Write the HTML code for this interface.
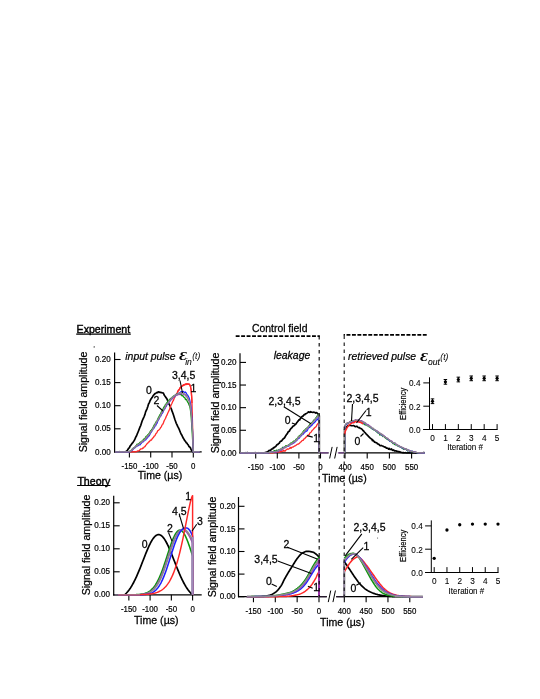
<!DOCTYPE html>
<html><head><meta charset="utf-8"><title>figure</title>
<style>
html,body{margin:0;padding:0;background:#fff;}
body{width:540px;height:699px;overflow:hidden;font-family:"Liberation Sans", sans-serif;}
svg{display:block;font-family:"Liberation Sans", sans-serif;}
</style></head><body>
<svg width="540" height="699" viewBox="0 0 540 699">
<rect width="540" height="699" fill="#fff"/>
<line x1="76.20" y1="334.10" x2="130.80" y2="334.10" stroke="#000" stroke-width="1.10" />
<path d="M235.7 336.1 H319.9" fill="none" stroke="#000" stroke-width="1.8" stroke-dasharray="3.9 1.55"/>
<path d="M426.7 334.9 H343.6" fill="none" stroke="#000" stroke-width="1.8" stroke-dasharray="3.9 1.55"/>
<line x1="114.60" y1="352.50" x2="114.60" y2="452.50" stroke="#000" stroke-width="1.20" />
<line x1="114.60" y1="451.90" x2="120.60" y2="451.90" stroke="#000" stroke-width="1.10" />
<line x1="114.60" y1="428.80" x2="120.60" y2="428.80" stroke="#000" stroke-width="1.10" />
<line x1="114.60" y1="405.70" x2="120.60" y2="405.70" stroke="#000" stroke-width="1.10" />
<line x1="114.60" y1="382.60" x2="120.60" y2="382.60" stroke="#000" stroke-width="1.10" />
<line x1="114.60" y1="359.50" x2="120.60" y2="359.50" stroke="#000" stroke-width="1.10" />
<line x1="114.00" y1="451.90" x2="201.70" y2="451.90" stroke="#000" stroke-width="1.20" />
<line x1="129.40" y1="451.90" x2="129.40" y2="457.50" stroke="#000" stroke-width="1.10" />
<line x1="150.70" y1="451.90" x2="150.70" y2="457.50" stroke="#000" stroke-width="1.10" />
<line x1="172.00" y1="451.90" x2="172.00" y2="457.50" stroke="#000" stroke-width="1.10" />
<line x1="193.30" y1="451.90" x2="193.30" y2="457.50" stroke="#000" stroke-width="1.10" />
<path d="M115.13 451.71 L115.84 451.97 L116.55 451.96 L117.26 452.02 L117.97 451.80 L118.68 452.17 L119.39 451.70 L120.10 451.99 L120.81 451.86 L121.52 451.93 L122.23 451.73 L122.95 452.14 L123.66 451.94 L124.37 451.94 L125.08 451.77 L125.79 451.71 L126.50 451.05 L127.21 450.60 L127.92 449.44 L128.63 448.31 L129.34 447.85 L130.05 446.12 L130.76 445.23 L131.47 444.36 L132.18 443.21 L132.89 442.65 L133.60 441.34 L134.32 440.40 L135.03 438.89 L135.74 437.19 L136.45 435.99 L137.16 434.20 L137.87 432.52 L138.58 430.77 L139.29 428.92 L140.00 426.95 L140.71 425.53 L141.42 423.28 L142.13 420.99 L142.84 419.45 L143.55 417.90 L144.26 416.27 L144.97 414.35 L145.68 411.64 L146.40 410.24 L147.11 408.57 L147.82 406.46 L148.53 404.06 L149.24 402.90 L149.95 400.99 L150.66 399.54 L151.37 398.48 L152.08 397.59 L152.79 396.29 L153.50 395.35 L154.21 394.38 L154.92 393.76 L155.63 393.22 L156.34 392.96 L157.05 392.37 L157.76 392.60 L158.48 391.79 L159.19 392.01 L159.90 392.37 L160.61 392.31 L161.32 392.76 L162.03 392.71 L162.74 392.97 L163.45 393.18 L164.16 395.03 L164.87 396.05 L165.58 396.95 L166.29 398.03 L167.00 399.09 L167.71 400.73 L168.42 403.08 L169.13 404.16 L169.84 405.42 L170.56 407.26 L171.27 408.78 L171.98 410.88 L172.69 412.81 L173.40 414.83 L174.11 416.98 L174.82 419.22 L175.53 421.24 L176.24 423.28 L176.95 424.62 L177.66 426.31 L178.37 427.53 L179.08 429.03 L179.79 430.89 L180.50 432.60 L181.21 434.18 L181.93 435.30 L182.64 436.81 L183.35 438.28 L184.06 439.39 L184.77 440.73 L185.48 441.35 L186.19 442.69 L186.90 443.08 L187.61 444.24 L188.32 445.07 L189.03 446.51 L189.74 447.02 L190.45 447.90 L191.16 449.71 L191.87 450.65 L192.58 451.53 L193.29 452.06 L194.01 451.86 L194.72 451.80 L195.43 452.00 L196.14 451.86 L196.85 452.05 L197.56 451.90 L198.27 452.09 L198.98 451.77 L199.69 451.85" fill="none" stroke="#000000" stroke-width="1.70" stroke-linejoin="round" stroke-linecap="butt"/>
<path d="M115.13 451.89 L115.84 451.84 L116.55 452.02 L117.26 451.82 L117.97 451.95 L118.68 452.08 L119.39 451.97 L120.10 451.83 L120.81 451.86 L121.52 452.03 L122.23 451.83 L122.95 451.91 L123.66 451.85 L124.37 451.86 L125.08 452.03 L125.79 451.86 L126.50 451.97 L127.21 451.72 L127.92 451.82 L128.63 451.89 L129.34 452.01 L130.05 451.89 L130.76 451.88 L131.47 452.04 L132.18 451.64 L132.89 451.85 L133.60 451.70 L134.32 452.03 L135.03 451.71 L135.74 451.91 L136.45 451.58 L137.16 451.20 L137.87 450.98 L138.58 450.96 L139.29 450.72 L140.00 449.74 L140.71 448.95 L141.42 448.91 L142.13 448.84 L142.84 448.01 L143.55 448.03 L144.26 446.79 L144.97 446.61 L145.68 445.36 L146.40 444.59 L147.11 443.52 L147.82 443.16 L148.53 441.99 L149.24 441.77 L149.95 440.77 L150.66 440.09 L151.37 440.22 L152.08 438.84 L152.79 438.01 L153.50 437.40 L154.21 436.18 L154.92 435.77 L155.63 434.17 L156.34 433.22 L157.05 432.34 L157.76 430.70 L158.48 430.45 L159.19 429.59 L159.90 428.87 L160.61 427.52 L161.32 426.85 L162.03 424.98 L162.74 424.37 L163.45 422.76 L164.16 420.73 L164.87 419.49 L165.58 418.23 L166.29 416.26 L167.00 415.11 L167.71 413.22 L168.42 411.82 L169.13 410.38 L169.84 408.16 L170.56 406.18 L171.27 404.80 L171.98 403.29 L172.69 401.44 L173.40 400.49 L174.11 398.44 L174.82 397.15 L175.53 394.76 L176.24 394.28 L176.95 393.36 L177.66 391.44 L178.37 390.70 L179.08 389.55 L179.79 388.48 L180.50 387.53 L181.21 386.90 L181.93 385.83 L182.64 385.49 L183.35 385.38 L184.06 384.88 L184.77 384.78 L185.48 384.12 L186.19 383.82 L186.90 383.83 L187.61 383.90 L188.32 384.27 L189.03 383.93 L189.74 384.94 L190.45 386.59 L191.16 389.88 L191.87 399.95 L192.58 425.79 L193.29 451.66 L194.01 451.85 L194.72 452.09 L195.43 451.95 L196.14 452.06 L196.85 451.80 L197.56 451.74 L198.27 451.95 L198.98 451.83 L199.69 451.92" fill="none" stroke="#ff2828" stroke-width="1.30" stroke-linejoin="round" stroke-linecap="butt"/>
<path d="M115.13 451.95 L115.84 451.91 L116.55 452.15 L117.26 451.71 L117.97 452.11 L118.68 452.00 L119.39 451.84 L120.10 452.04 L120.81 452.02 L121.52 452.00 L122.23 451.84 L122.95 451.64 L123.66 451.90 L124.37 452.03 L125.08 451.84 L125.79 451.97 L126.50 451.90 L127.21 451.76 L127.92 451.97 L128.63 451.72 L129.34 451.56 L130.05 451.12 L130.76 450.53 L131.47 450.22 L132.18 449.27 L132.89 448.49 L133.60 447.92 L134.32 447.47 L135.03 446.98 L135.74 446.01 L136.45 445.51 L137.16 444.17 L137.87 445.15 L138.58 443.79 L139.29 443.17 L140.00 442.29 L140.71 442.00 L141.42 441.84 L142.13 440.94 L142.84 440.12 L143.55 439.73 L144.26 438.70 L144.97 438.84 L145.68 436.93 L146.40 436.23 L147.11 435.99 L147.82 434.82 L148.53 434.09 L149.24 433.42 L149.95 432.14 L150.66 430.83 L151.37 430.22 L152.08 429.11 L152.79 427.86 L153.50 426.49 L154.21 424.98 L154.92 424.33 L155.63 422.69 L156.34 421.50 L157.05 420.88 L157.76 419.08 L158.48 417.61 L159.19 416.18 L159.90 414.67 L160.61 414.05 L161.32 412.03 L162.03 410.98 L162.74 409.98 L163.45 408.09 L164.16 406.78 L164.87 406.01 L165.58 404.35 L166.29 403.65 L167.00 402.50 L167.71 401.98 L168.42 400.31 L169.13 400.93 L169.84 399.38 L170.56 398.47 L171.27 398.73 L171.98 397.56 L172.69 397.00 L173.40 396.24 L174.11 395.62 L174.82 395.67 L175.53 395.53 L176.24 394.25 L176.95 394.02 L177.66 394.44 L178.37 394.20 L179.08 394.27 L179.79 394.33 L180.50 394.61 L181.21 394.42 L181.93 395.80 L182.64 395.47 L183.35 396.38 L184.06 397.33 L184.77 397.62 L185.48 399.53 L186.19 399.25 L186.90 400.47 L187.61 402.10 L188.32 402.95 L189.03 404.89 L189.74 406.25 L190.45 410.05 L191.16 416.51 L191.87 426.71 L192.58 439.16 L193.29 451.94 L194.01 451.96 L194.72 452.00 L195.43 451.97 L196.14 451.93 L196.85 451.96 L197.56 451.98 L198.27 452.01 L198.98 451.61 L199.69 452.07" fill="none" stroke="#0c960c" stroke-width="1.30" stroke-linejoin="round" stroke-linecap="butt"/>
<path d="M115.13 451.69 L115.84 451.85 L116.55 451.89 L117.26 452.12 L117.97 451.93 L118.68 451.94 L119.39 451.91 L120.10 451.97 L120.81 451.91 L121.52 451.96 L122.23 452.05 L122.95 451.80 L123.66 451.80 L124.37 451.70 L125.08 451.89 L125.79 451.95 L126.50 451.96 L127.21 452.08 L127.92 451.79 L128.63 452.03 L129.34 451.91 L130.05 451.54 L130.76 451.01 L131.47 450.63 L132.18 450.33 L132.89 449.52 L133.60 448.41 L134.32 448.08 L135.03 447.74 L135.74 447.04 L136.45 446.23 L137.16 445.33 L137.87 445.89 L138.58 445.20 L139.29 444.76 L140.00 444.78 L140.71 443.77 L141.42 443.26 L142.13 441.99 L142.84 441.82 L143.55 441.71 L144.26 440.37 L144.97 440.06 L145.68 439.83 L146.40 438.74 L147.11 437.97 L147.82 437.23 L148.53 436.05 L149.24 435.86 L149.95 434.25 L150.66 432.84 L151.37 431.86 L152.08 430.70 L152.79 429.56 L153.50 428.27 L154.21 427.90 L154.92 426.03 L155.63 425.66 L156.34 424.01 L157.05 423.19 L157.76 420.96 L158.48 419.58 L159.19 418.77 L159.90 416.82 L160.61 416.31 L161.32 414.75 L162.03 413.48 L162.74 412.63 L163.45 410.89 L164.16 409.14 L164.87 408.85 L165.58 407.01 L166.29 406.17 L167.00 404.43 L167.71 403.79 L168.42 402.74 L169.13 401.78 L169.84 400.97 L170.56 400.60 L171.27 398.85 L171.98 398.93 L172.69 397.65 L173.40 396.84 L174.11 396.65 L174.82 395.71 L175.53 394.79 L176.24 394.63 L176.95 394.41 L177.66 394.62 L178.37 393.56 L179.08 392.98 L179.79 392.52 L180.50 392.28 L181.21 391.56 L181.93 391.72 L182.64 391.58 L183.35 391.48 L184.06 392.24 L184.77 392.42 L185.48 392.03 L186.19 392.99 L186.90 394.52 L187.61 395.21 L188.32 396.29 L189.03 397.69 L189.74 400.29 L190.45 403.62 L191.16 409.21 L191.87 417.75 L192.58 431.58 L193.29 451.96 L194.01 451.92 L194.72 451.95 L195.43 451.82 L196.14 451.98 L196.85 451.84 L197.56 451.80 L198.27 451.84 L198.98 452.00 L199.69 451.74" fill="none" stroke="#2020ff" stroke-width="1.30" stroke-linejoin="round" stroke-linecap="butt"/>
<path d="M115.13 451.87 L115.84 451.78 L116.55 452.00 L117.26 451.97 L117.97 452.01 L118.68 451.93 L119.39 451.97 L120.10 451.69 L120.81 452.14 L121.52 451.80 L122.23 452.01 L122.95 451.93 L123.66 451.65 L124.37 452.05 L125.08 451.89 L125.79 452.04 L126.50 451.76 L127.21 452.02 L127.92 451.78 L128.63 451.89 L129.34 451.36 L130.05 451.65 L130.76 450.58 L131.47 450.09 L132.18 450.13 L132.89 449.54 L133.60 448.05 L134.32 447.72 L135.03 447.24 L135.74 445.90 L136.45 445.96 L137.16 446.12 L137.87 444.51 L138.58 444.40 L139.29 443.88 L140.00 443.36 L140.71 442.88 L141.42 442.59 L142.13 441.72 L142.84 441.83 L143.55 440.54 L144.26 440.55 L144.97 439.20 L145.68 438.80 L146.40 437.72 L147.11 437.23 L147.82 436.31 L148.53 435.56 L149.24 434.43 L149.95 432.87 L150.66 432.19 L151.37 430.98 L152.08 430.64 L152.79 428.77 L153.50 427.72 L154.21 426.99 L154.92 425.80 L155.63 424.27 L156.34 423.18 L157.05 421.48 L157.76 420.35 L158.48 419.36 L159.19 418.50 L159.90 416.57 L160.61 415.74 L161.32 413.98 L162.03 412.68 L162.74 411.42 L163.45 410.20 L164.16 409.32 L164.87 408.00 L165.58 407.36 L166.29 405.31 L167.00 404.13 L167.71 403.47 L168.42 402.95 L169.13 401.63 L169.84 401.16 L170.56 400.24 L171.27 398.86 L171.98 398.84 L172.69 398.46 L173.40 397.46 L174.11 397.12 L174.82 396.94 L175.53 396.02 L176.24 395.26 L176.95 395.37 L177.66 394.42 L178.37 394.65 L179.08 394.73 L179.79 393.86 L180.50 394.06 L181.21 393.36 L181.93 393.94 L182.64 393.93 L183.35 394.37 L184.06 394.55 L184.77 394.88 L185.48 395.56 L186.19 396.72 L186.90 396.85 L187.61 398.11 L188.32 400.30 L189.03 401.05 L189.74 404.00 L190.45 407.13 L191.16 413.02 L191.87 420.71 L192.58 432.21 L193.29 451.93 L194.01 451.87 L194.72 451.82 L195.43 452.06 L196.14 451.97 L196.85 451.92 L197.56 451.98 L198.27 451.92 L198.98 451.88 L199.69 451.90" fill="none" stroke="#9c44b4" stroke-width="1.10" stroke-linejoin="round" stroke-linecap="butt"/>
<path d="M115.13 451.90 L115.84 451.90 L116.55 451.90 L117.26 451.90 L117.97 451.90 L118.68 451.90 L119.39 451.90 L120.10 451.90 L120.81 451.90 L121.52 451.90 L122.23 451.90 L122.95 451.90 L123.66 451.90 L124.37 451.90 L125.08 451.90 L125.79 451.90 L126.50 451.90 L127.21 451.90 L127.92 451.90 L128.63 451.84 L129.34 451.62 L130.05 451.34 L130.76 450.89 L131.47 450.42 L132.18 449.27 L132.89 448.63 L133.60 448.14 L134.32 447.67 L135.03 447.00 L135.74 446.50 L136.45 445.69 L137.16 445.63 L137.87 444.92 L138.58 444.44 L139.29 443.91 L140.00 443.28 L140.71 442.75 L141.42 441.81 L142.13 441.68 L142.84 440.53 L143.55 440.51 L144.26 439.91 L144.97 439.05 L145.68 438.26 L146.40 437.54 L147.11 436.42 L147.82 435.63 L148.53 434.96 L149.24 434.31 L149.95 433.28 L150.66 431.79 L151.37 431.14 L152.08 430.54 L152.79 429.17 L153.50 427.93 L154.21 426.12 L154.92 425.26 L155.63 423.21 L156.34 422.46 L157.05 421.36 L157.76 420.25 L158.48 418.48 L159.19 417.54 L159.90 416.40 L160.61 414.63 L161.32 413.50 L162.03 411.86 L162.74 411.02 L163.45 410.65 L164.16 408.21 L164.87 407.82 L165.58 405.51 L166.29 404.26 L167.00 403.91 L167.71 403.16 L168.42 402.34 L169.13 400.74 L169.84 400.27 L170.56 399.62 L171.27 398.78 L171.98 397.33 L172.69 397.25 L173.40 396.53 L174.11 395.95 L174.82 395.32 L175.53 394.80 L176.24 394.90 L176.95 394.32 L177.66 394.13 L178.37 393.79 L179.08 392.87 L179.79 393.11 L180.50 392.76 L181.21 392.85 L181.93 392.87 L182.64 392.62 L183.35 393.34 L184.06 393.76 L184.77 393.92 L185.48 394.43 L186.19 395.05 L186.90 396.21 L187.61 398.00 L188.32 398.61 L189.03 400.45 L189.74 402.75 L190.45 406.74 L191.16 411.80 L191.87 421.10 L192.58 431.68 L193.29 451.90 L194.01 451.90 L194.72 451.90 L195.43 451.90 L196.14 451.90 L196.85 451.90 L197.56 451.90 L198.27 451.90 L198.98 451.90 L199.69 451.90" fill="none" stroke="#8a8a8a" stroke-width="1.30" stroke-linejoin="round" stroke-linecap="butt"/>
<path d="M177.79 391.76 L178.16 390.49 L178.52 389.92 L178.89 390.27 L179.25 389.68 L179.62 389.23 L179.98 387.58 L180.34 387.69 L180.71 387.31 L181.07 386.71 L181.44 386.85 L181.80 386.29 L182.17 386.35 L182.53 385.54 L182.89 385.81 L183.26 385.16 L183.62 384.72 L183.99 384.90 L184.35 384.40 L184.72 384.89 L185.08 384.73 L185.44 384.15 L185.81 384.20 L186.17 384.52 L186.54 384.19 L186.90 383.65 L187.27 384.29 L187.63 384.09 L187.99 384.29 L188.36 384.18 L188.72 384.23 L189.09 384.27 L189.45 384.43 L189.81 384.72 L190.18 385.63 L190.54 386.86 L190.91 388.61 L191.27 391.77 L191.64 396.11 L192.00 402.95" fill="none" stroke="#ff2828" stroke-width="1.30" stroke-linejoin="round" stroke-linecap="butt"/>
<line x1="180.00" y1="380.50" x2="182.50" y2="393.00" stroke="#000" stroke-width="1.10" />
<line x1="157.00" y1="405.50" x2="163.00" y2="411.00" stroke="#000" stroke-width="1.10" />
<circle cx="94.2" cy="346.9" r="0.7" fill="#222"/>
<line x1="240.00" y1="353.20" x2="240.00" y2="453.50" stroke="#000" stroke-width="1.20" />
<line x1="240.00" y1="452.90" x2="246.00" y2="452.90" stroke="#000" stroke-width="1.10" />
<line x1="240.00" y1="430.28" x2="246.00" y2="430.28" stroke="#000" stroke-width="1.10" />
<line x1="240.00" y1="407.66" x2="246.00" y2="407.66" stroke="#000" stroke-width="1.10" />
<line x1="240.00" y1="385.04" x2="246.00" y2="385.04" stroke="#000" stroke-width="1.10" />
<line x1="240.00" y1="362.42" x2="246.00" y2="362.42" stroke="#000" stroke-width="1.10" />
<line x1="239.40" y1="452.90" x2="329.00" y2="452.90" stroke="#000" stroke-width="1.20" />
<line x1="255.70" y1="452.90" x2="255.70" y2="458.50" stroke="#000" stroke-width="1.10" />
<line x1="277.30" y1="452.90" x2="277.30" y2="458.50" stroke="#000" stroke-width="1.10" />
<line x1="298.90" y1="452.90" x2="298.90" y2="458.50" stroke="#000" stroke-width="1.10" />
<line x1="320.50" y1="452.90" x2="320.50" y2="458.50" stroke="#000" stroke-width="1.10" />
<line x1="338.50" y1="452.90" x2="424.40" y2="452.90" stroke="#000" stroke-width="1.20" />
<line x1="345.00" y1="452.90" x2="345.00" y2="458.50" stroke="#000" stroke-width="1.10" />
<line x1="367.20" y1="452.90" x2="367.20" y2="458.50" stroke="#000" stroke-width="1.10" />
<line x1="389.40" y1="452.90" x2="389.40" y2="458.50" stroke="#000" stroke-width="1.10" />
<line x1="411.60" y1="452.90" x2="411.60" y2="458.50" stroke="#000" stroke-width="1.10" />
<path d="M240.12 452.94 L240.85 452.82 L241.57 452.88 L242.30 453.00 L243.03 453.18 L243.75 452.80 L244.48 452.77 L245.20 453.07 L245.93 452.71 L246.66 452.95 L247.38 452.60 L248.11 452.83 L248.84 452.94 L249.56 452.76 L250.29 452.89 L251.02 452.89 L251.74 452.89 L252.47 452.92 L253.20 452.83 L253.92 452.81 L254.65 452.86 L255.37 452.69 L256.10 453.05 L256.83 452.95 L257.55 452.81 L258.28 453.03 L259.01 452.72 L259.73 452.82 L260.46 452.92 L261.19 452.84 L261.91 452.97 L262.64 453.07 L263.37 452.80 L264.09 452.75 L264.82 452.66 L265.54 452.44 L266.27 452.42 L267.00 451.98 L267.72 451.60 L268.45 451.10 L269.18 450.35 L269.90 450.54 L270.63 450.19 L271.36 449.19 L272.08 449.03 L272.81 448.88 L273.54 447.49 L274.26 447.56 L274.99 446.87 L275.71 446.42 L276.44 445.39 L277.17 444.57 L277.89 444.42 L278.62 443.56 L279.35 443.19 L280.07 441.64 L280.80 441.21 L281.53 441.15 L282.25 440.03 L282.98 439.11 L283.71 438.43 L284.43 437.93 L285.16 436.81 L285.88 435.47 L286.61 434.39 L287.34 433.60 L288.06 432.04 L288.79 431.48 L289.52 430.96 L290.24 429.45 L290.97 428.47 L291.70 427.93 L292.42 426.92 L293.15 426.13 L293.88 425.83 L294.60 425.35 L295.33 424.33 L296.05 423.93 L296.78 422.63 L297.51 421.79 L298.23 420.87 L298.96 419.77 L299.69 420.00 L300.41 418.29 L301.14 417.90 L301.87 416.69 L302.59 416.15 L303.32 415.85 L304.05 414.64 L304.77 414.63 L305.50 413.71 L306.22 413.57 L306.95 413.11 L307.68 412.62 L308.40 411.88 L309.13 412.17 L309.86 412.31 L310.58 411.72 L311.31 412.19 L312.04 412.28 L312.76 412.50 L313.49 412.17 L314.22 412.24 L314.94 412.57 L315.67 413.05 L316.39 412.64 L317.12 412.96 L317.85 413.75 L318.57 414.69 L319.30 415.69 L319.30 452.90" fill="none" stroke="#000000" stroke-width="1.70" stroke-linejoin="round" stroke-linecap="butt"/>
<path d="M240.12 452.90 L240.85 452.93 L241.57 453.03 L242.30 452.90 L243.03 452.94 L243.75 452.95 L244.48 453.07 L245.20 452.96 L245.93 452.93 L246.66 452.97 L247.38 452.83 L248.11 452.70 L248.84 452.87 L249.56 452.82 L250.29 452.69 L251.02 452.85 L251.74 452.73 L252.47 453.00 L253.20 452.92 L253.92 452.75 L254.65 452.82 L255.37 452.90 L256.10 452.80 L256.83 452.86 L257.55 452.84 L258.28 452.94 L259.01 452.88 L259.73 452.86 L260.46 452.96 L261.19 453.14 L261.91 452.91 L262.64 452.62 L263.37 453.20 L264.09 453.00 L264.82 452.93 L265.54 452.87 L266.27 452.77 L267.00 452.78 L267.72 452.75 L268.45 452.74 L269.18 452.97 L269.90 452.91 L270.63 452.96 L271.36 452.85 L272.08 452.94 L272.81 453.00 L273.54 452.60 L274.26 452.56 L274.99 452.44 L275.71 452.14 L276.44 452.26 L277.17 452.09 L277.89 452.02 L278.62 452.08 L279.35 452.06 L280.07 451.66 L280.80 451.74 L281.53 451.59 L282.25 450.96 L282.98 451.28 L283.71 450.23 L284.43 451.05 L285.16 451.13 L285.88 450.04 L286.61 449.56 L287.34 448.87 L288.06 449.26 L288.79 448.92 L289.52 448.53 L290.24 447.38 L290.97 448.37 L291.70 447.33 L292.42 447.08 L293.15 447.01 L293.88 446.46 L294.60 445.93 L295.33 445.87 L296.05 445.23 L296.78 444.64 L297.51 444.21 L298.23 444.16 L298.96 443.64 L299.69 443.03 L300.41 442.19 L301.14 441.78 L301.87 440.79 L302.59 440.32 L303.32 440.29 L304.05 438.77 L304.77 438.61 L305.50 437.55 L306.22 437.02 L306.95 436.02 L307.68 435.57 L308.40 434.81 L309.13 434.63 L309.86 432.90 L310.58 432.54 L311.31 431.86 L312.04 430.50 L312.76 429.89 L313.49 429.15 L314.22 428.23 L314.94 427.52 L315.67 427.01 L316.39 426.18 L317.12 424.60 L317.85 423.71 L318.57 423.09 L319.30 422.49 L319.30 452.90" fill="none" stroke="#ff2828" stroke-width="1.30" stroke-linejoin="round" stroke-linecap="butt"/>
<path d="M240.12 452.71 L240.85 452.95 L241.57 452.90 L242.30 452.85 L243.03 452.99 L243.75 452.90 L244.48 452.90 L245.20 453.10 L245.93 452.78 L246.66 452.83 L247.38 452.97 L248.11 452.92 L248.84 452.84 L249.56 452.93 L250.29 452.93 L251.02 453.06 L251.74 452.84 L252.47 452.89 L253.20 452.87 L253.92 453.07 L254.65 452.71 L255.37 452.88 L256.10 452.94 L256.83 452.67 L257.55 452.91 L258.28 453.06 L259.01 452.95 L259.73 453.16 L260.46 452.78 L261.19 452.95 L261.91 452.98 L262.64 452.78 L263.37 453.09 L264.09 452.84 L264.82 453.13 L265.54 452.97 L266.27 453.04 L267.00 452.73 L267.72 452.69 L268.45 452.77 L269.18 452.41 L269.90 452.35 L270.63 452.10 L271.36 452.09 L272.08 452.04 L272.81 451.90 L273.54 451.41 L274.26 450.65 L274.99 451.10 L275.71 451.16 L276.44 450.18 L277.17 450.48 L277.89 450.26 L278.62 449.90 L279.35 449.67 L280.07 449.35 L280.80 449.32 L281.53 448.30 L282.25 448.08 L282.98 447.27 L283.71 447.38 L284.43 447.48 L285.16 446.52 L285.88 445.57 L286.61 445.83 L287.34 445.60 L288.06 445.29 L288.79 444.84 L289.52 444.20 L290.24 444.10 L290.97 442.86 L291.70 443.03 L292.42 442.49 L293.15 441.62 L293.88 441.10 L294.60 441.08 L295.33 440.25 L296.05 439.39 L296.78 438.91 L297.51 438.61 L298.23 437.03 L298.96 436.16 L299.69 435.54 L300.41 435.18 L301.14 434.16 L301.87 433.49 L302.59 432.60 L303.32 431.31 L304.05 430.45 L304.77 429.95 L305.50 429.24 L306.22 428.45 L306.95 427.93 L307.68 427.20 L308.40 426.64 L309.13 425.67 L309.86 424.16 L310.58 423.79 L311.31 423.35 L312.04 422.56 L312.76 421.85 L313.49 420.62 L314.22 419.78 L314.94 419.54 L315.67 418.06 L316.39 417.51 L317.12 416.00 L317.85 415.60 L318.57 414.41 L319.30 414.59 L319.30 452.90" fill="none" stroke="#0c960c" stroke-width="1.30" stroke-linejoin="round" stroke-linecap="butt"/>
<path d="M240.12 452.89 L240.85 452.78 L241.57 453.12 L242.30 453.06 L243.03 453.16 L243.75 452.63 L244.48 452.70 L245.20 452.65 L245.93 452.81 L246.66 452.79 L247.38 453.03 L248.11 452.68 L248.84 453.03 L249.56 452.98 L250.29 452.94 L251.02 452.99 L251.74 452.80 L252.47 452.93 L253.20 452.91 L253.92 452.92 L254.65 452.75 L255.37 452.97 L256.10 452.92 L256.83 452.85 L257.55 453.09 L258.28 452.95 L259.01 452.84 L259.73 452.77 L260.46 452.88 L261.19 452.98 L261.91 452.74 L262.64 452.93 L263.37 452.90 L264.09 452.88 L264.82 452.91 L265.54 452.96 L266.27 452.85 L267.00 453.03 L267.72 452.95 L268.45 452.78 L269.18 452.63 L269.90 452.37 L270.63 452.24 L271.36 452.14 L272.08 452.06 L272.81 451.88 L273.54 451.65 L274.26 451.62 L274.99 451.97 L275.71 451.13 L276.44 451.93 L277.17 451.73 L277.89 450.91 L278.62 451.11 L279.35 449.88 L280.07 449.79 L280.80 449.89 L281.53 449.77 L282.25 448.75 L282.98 448.08 L283.71 448.08 L284.43 447.16 L285.16 447.22 L285.88 446.78 L286.61 446.76 L287.34 446.18 L288.06 446.00 L288.79 446.15 L289.52 444.39 L290.24 444.86 L290.97 444.42 L291.70 443.67 L292.42 443.67 L293.15 443.22 L293.88 442.69 L294.60 442.66 L295.33 441.20 L296.05 440.89 L296.78 440.48 L297.51 439.24 L298.23 438.67 L298.96 438.35 L299.69 437.28 L300.41 436.61 L301.14 435.76 L301.87 435.01 L302.59 434.16 L303.32 434.03 L304.05 432.92 L304.77 432.50 L305.50 431.35 L306.22 431.24 L306.95 430.82 L307.68 429.57 L308.40 427.92 L309.13 427.65 L309.86 427.26 L310.58 425.75 L311.31 425.83 L312.04 425.06 L312.76 423.95 L313.49 423.34 L314.22 422.69 L314.94 422.05 L315.67 421.12 L316.39 419.93 L317.12 419.87 L317.85 418.92 L318.57 417.64 L319.30 416.79 L319.30 452.90" fill="none" stroke="#2020ff" stroke-width="1.30" stroke-linejoin="round" stroke-linecap="butt"/>
<path d="M240.12 452.85 L240.85 452.71 L241.57 452.93 L242.30 453.01 L243.03 452.89 L243.75 452.73 L244.48 452.86 L245.20 452.93 L245.93 452.99 L246.66 452.96 L247.38 452.87 L248.11 453.18 L248.84 452.97 L249.56 453.10 L250.29 452.87 L251.02 452.76 L251.74 452.97 L252.47 452.93 L253.20 452.96 L253.92 452.85 L254.65 452.91 L255.37 452.99 L256.10 452.92 L256.83 452.88 L257.55 452.82 L258.28 452.82 L259.01 452.99 L259.73 452.86 L260.46 452.89 L261.19 452.94 L261.91 452.98 L262.64 452.89 L263.37 452.79 L264.09 452.73 L264.82 453.08 L265.54 452.79 L266.27 452.97 L267.00 452.85 L267.72 452.89 L268.45 452.63 L269.18 452.55 L269.90 452.29 L270.63 452.22 L271.36 452.25 L272.08 451.98 L272.81 452.00 L273.54 452.05 L274.26 451.77 L274.99 451.81 L275.71 451.51 L276.44 451.60 L277.17 451.44 L277.89 450.95 L278.62 450.57 L279.35 450.28 L280.07 450.52 L280.80 449.70 L281.53 450.12 L282.25 448.91 L282.98 449.26 L283.71 447.95 L284.43 447.93 L285.16 447.87 L285.88 446.71 L286.61 446.52 L287.34 446.15 L288.06 445.61 L288.79 445.27 L289.52 444.93 L290.24 444.56 L290.97 443.78 L291.70 444.34 L292.42 443.90 L293.15 443.14 L293.88 442.41 L294.60 441.94 L295.33 440.78 L296.05 440.97 L296.78 439.89 L297.51 438.97 L298.23 437.91 L298.96 437.57 L299.69 436.68 L300.41 436.18 L301.14 434.75 L301.87 434.15 L302.59 434.33 L303.32 432.53 L304.05 432.02 L304.77 431.29 L305.50 430.29 L306.22 429.13 L306.95 429.03 L307.68 428.78 L308.40 426.97 L309.13 425.90 L309.86 425.80 L310.58 425.10 L311.31 424.16 L312.04 423.58 L312.76 422.45 L313.49 421.61 L314.22 420.36 L314.94 420.26 L315.67 418.93 L316.39 418.10 L317.12 417.15 L317.85 416.57 L318.57 415.87 L319.30 414.63 L319.30 452.90" fill="none" stroke="#9c44b4" stroke-width="1.10" stroke-linejoin="round" stroke-linecap="butt"/>
<path d="M240.12 452.90 L240.85 452.90 L241.57 452.90 L242.30 452.90 L243.03 452.90 L243.75 452.90 L244.48 452.90 L245.20 452.90 L245.93 452.90 L246.66 452.90 L247.38 452.90 L248.11 452.90 L248.84 452.90 L249.56 452.90 L250.29 452.90 L251.02 452.90 L251.74 452.90 L252.47 452.90 L253.20 452.90 L253.92 452.90 L254.65 452.90 L255.37 452.90 L256.10 452.90 L256.83 452.90 L257.55 452.90 L258.28 452.90 L259.01 452.90 L259.73 452.90 L260.46 452.90 L261.19 452.90 L261.91 452.90 L262.64 452.90 L263.37 452.90 L264.09 452.90 L264.82 452.90 L265.54 452.90 L266.27 452.90 L267.00 452.90 L267.72 452.89 L268.45 452.72 L269.18 452.50 L269.90 452.35 L270.63 452.22 L271.36 452.10 L272.08 451.99 L272.81 451.89 L273.54 451.79 L274.26 451.68 L274.99 451.56 L275.71 451.47 L276.44 451.28 L277.17 451.00 L277.89 451.04 L278.62 450.36 L279.35 449.97 L280.07 449.80 L280.80 448.70 L281.53 448.74 L282.25 448.64 L282.98 448.31 L283.71 447.88 L284.43 447.58 L285.16 446.68 L285.88 446.87 L286.61 446.28 L287.34 446.02 L288.06 445.12 L288.79 445.50 L289.52 444.77 L290.24 444.30 L290.97 443.78 L291.70 443.34 L292.42 443.14 L293.15 442.31 L293.88 442.02 L294.60 440.78 L295.33 441.38 L296.05 439.97 L296.78 439.72 L297.51 438.84 L298.23 437.15 L298.96 436.43 L299.69 436.80 L300.41 435.51 L301.14 434.67 L301.87 434.52 L302.59 433.07 L303.32 432.14 L304.05 431.41 L304.77 431.34 L305.50 429.60 L306.22 429.13 L306.95 428.48 L307.68 427.96 L308.40 426.74 L309.13 425.91 L309.86 425.57 L310.58 424.58 L311.31 423.52 L312.04 423.57 L312.76 422.08 L313.49 421.88 L314.22 420.74 L314.94 419.48 L315.67 418.81 L316.39 418.00 L317.12 417.09 L317.85 415.92 L318.57 415.28 L319.30 415.24 L319.30 452.90" fill="none" stroke="#8a8a8a" stroke-width="1.30" stroke-linejoin="round" stroke-linecap="butt"/>
<path d="M344.60 452.90 L344.60 429.73 L345.33 427.64 L346.07 427.03 L346.80 427.19 L347.53 425.88 L348.27 425.69 L349.00 425.59 L349.73 425.21 L350.47 425.18 L351.20 425.72 L351.93 425.76 L352.67 425.76 L353.40 425.52 L354.13 425.71 L354.86 426.49 L355.60 426.65 L356.33 426.31 L357.06 426.31 L357.80 427.11 L358.53 427.65 L359.26 427.46 L360.00 428.32 L360.73 428.44 L361.46 428.69 L362.20 429.58 L362.93 430.43 L363.66 430.94 L364.40 432.12 L365.13 432.70 L365.86 433.60 L366.60 434.29 L367.33 435.21 L368.06 435.93 L368.80 436.78 L369.53 437.36 L370.26 438.09 L371.00 438.73 L371.73 439.05 L372.46 440.63 L373.20 440.31 L373.93 441.34 L374.66 442.17 L375.39 442.33 L376.13 442.73 L376.86 442.88 L377.59 444.00 L378.33 444.02 L379.06 444.46 L379.79 445.43 L380.53 445.65 L381.26 445.45 L381.99 445.77 L382.73 445.99 L383.46 446.49 L384.19 446.84 L384.93 447.23 L385.66 447.18 L386.39 448.11 L387.13 448.16 L387.86 448.26 L388.59 449.15 L389.33 448.49 L390.06 449.41 L390.79 449.43 L391.53 448.97 L392.26 450.16 L392.99 450.30 L393.73 449.87 L394.46 450.93 L395.19 450.94 L395.92 450.85 L396.66 451.08 L397.39 451.23 L398.12 451.56 L398.86 451.64 L399.59 451.86 L400.32 452.08 L401.06 452.39 L401.79 452.53 L402.52 452.79 L403.26 452.61 L403.99 453.00 L404.72 452.77 L405.46 452.69 L406.19 453.02 L406.92 452.98 L407.66 452.95 L408.39 452.81 L409.12 453.00 L409.86 452.91 L410.59 452.96 L411.32 452.93 L412.06 452.75 L412.79 453.01 L413.52 452.89 L414.26 452.87 L414.99 452.80 L415.72 453.04 L416.45 452.77 L417.19 452.85 L417.92 452.80 L418.65 452.89 L419.39 453.09 L420.12 452.97 L420.85 452.81 L421.59 452.90 L422.32 452.91 L423.05 452.70 L423.79 452.65 L424.52 452.90" fill="none" stroke="#000000" stroke-width="1.70" stroke-linejoin="round" stroke-linecap="butt"/>
<path d="M344.60 452.90 L344.60 429.23 L345.33 425.32 L346.07 424.11 L346.80 424.18 L347.53 422.99 L348.27 423.38 L349.00 422.60 L349.73 422.36 L350.47 422.30 L351.20 420.90 L351.93 421.79 L352.67 421.30 L353.40 420.96 L354.13 421.57 L354.86 420.66 L355.60 421.06 L356.33 420.69 L357.06 421.33 L357.80 421.43 L358.53 420.81 L359.26 421.16 L360.00 421.49 L360.73 421.62 L361.46 422.00 L362.20 422.88 L362.93 423.58 L363.66 423.82 L364.40 424.31 L365.13 424.93 L365.86 424.91 L366.60 425.35 L367.33 425.64 L368.06 426.00 L368.80 426.62 L369.53 427.02 L370.26 427.37 L371.00 428.17 L371.73 428.57 L372.46 428.84 L373.20 429.59 L373.93 430.09 L374.66 430.48 L375.39 430.56 L376.13 431.40 L376.86 432.14 L377.59 432.74 L378.33 433.12 L379.06 432.90 L379.79 435.12 L380.53 434.47 L381.26 435.07 L381.99 435.37 L382.73 436.50 L383.46 435.97 L384.19 436.81 L384.93 437.64 L385.66 438.07 L386.39 438.84 L387.13 439.10 L387.86 439.67 L388.59 439.84 L389.33 440.54 L390.06 441.19 L390.79 441.46 L391.53 442.00 L392.26 442.59 L392.99 443.61 L393.73 443.25 L394.46 444.37 L395.19 444.75 L395.92 444.87 L396.66 445.08 L397.39 445.19 L398.12 446.56 L398.86 445.94 L399.59 446.25 L400.32 447.27 L401.06 447.55 L401.79 448.02 L402.52 448.37 L403.26 448.95 L403.99 449.39 L404.72 449.23 L405.46 449.39 L406.19 449.17 L406.92 450.33 L407.66 450.93 L408.39 450.46 L409.12 450.88 L409.86 450.84 L410.59 451.28 L411.32 451.75 L412.06 451.75 L412.79 451.62 L413.52 451.84 L414.26 452.14 L414.99 452.08 L415.72 452.48 L416.45 452.50 L417.19 452.53 L417.92 452.84 L418.65 452.93 L419.39 452.87 L420.12 452.91 L420.85 452.93 L421.59 452.96 L422.32 453.02 L423.05 452.99 L423.79 452.56 L424.52 452.97" fill="none" stroke="#0c960c" stroke-width="1.20" stroke-linejoin="round" stroke-linecap="butt"/>
<path d="M344.60 452.90 L344.60 429.60 L345.33 425.33 L346.07 424.66 L346.80 423.95 L347.53 423.26 L348.27 423.20 L349.00 422.63 L349.73 422.46 L350.47 421.96 L351.20 422.46 L351.93 422.12 L352.67 422.07 L353.40 421.29 L354.13 421.36 L354.86 420.84 L355.60 420.93 L356.33 420.97 L357.06 420.32 L357.80 420.81 L358.53 421.01 L359.26 421.35 L360.00 420.82 L360.73 421.15 L361.46 422.10 L362.20 422.12 L362.93 422.31 L363.66 423.27 L364.40 423.25 L365.13 423.15 L365.86 424.56 L366.60 424.35 L367.33 424.35 L368.06 425.62 L368.80 426.05 L369.53 426.33 L370.26 426.73 L371.00 427.27 L371.73 428.38 L372.46 428.66 L373.20 428.91 L373.93 429.57 L374.66 429.64 L375.39 430.63 L376.13 431.17 L376.86 430.99 L377.59 432.13 L378.33 432.94 L379.06 433.15 L379.79 433.74 L380.53 433.96 L381.26 434.54 L381.99 435.29 L382.73 435.81 L383.46 436.35 L384.19 436.25 L384.93 436.53 L385.66 437.68 L386.39 437.98 L387.13 438.55 L387.86 439.33 L388.59 439.84 L389.33 440.34 L390.06 441.31 L390.79 441.44 L391.53 441.56 L392.26 441.90 L392.99 442.73 L393.73 443.24 L394.46 443.38 L395.19 443.38 L395.92 444.77 L396.66 445.15 L397.39 445.47 L398.12 445.57 L398.86 446.42 L399.59 446.39 L400.32 447.13 L401.06 447.09 L401.79 447.71 L402.52 448.09 L403.26 448.03 L403.99 448.98 L404.72 449.16 L405.46 448.99 L406.19 449.27 L406.92 449.73 L407.66 450.77 L408.39 450.12 L409.12 450.51 L409.86 450.98 L410.59 451.73 L411.32 451.07 L412.06 450.98 L412.79 451.66 L413.52 451.73 L414.26 452.11 L414.99 452.16 L415.72 452.39 L416.45 452.56 L417.19 452.60 L417.92 452.78 L418.65 452.88 L419.39 452.96 L420.12 452.95 L420.85 452.93 L421.59 452.89 L422.32 453.04 L423.05 452.86 L423.79 453.11 L424.52 452.89" fill="none" stroke="#2020ff" stroke-width="1.20" stroke-linejoin="round" stroke-linecap="butt"/>
<path d="M344.60 452.90 L344.60 428.88 L345.33 425.14 L346.07 423.93 L346.80 423.17 L347.53 423.18 L348.27 422.66 L349.00 422.44 L349.73 421.67 L350.47 421.77 L351.20 421.19 L351.93 421.21 L352.67 420.60 L353.40 420.83 L354.13 420.70 L354.86 420.33 L355.60 419.53 L356.33 420.19 L357.06 420.60 L357.80 420.55 L358.53 419.48 L359.26 420.47 L360.00 420.61 L360.73 420.73 L361.46 420.58 L362.20 421.16 L362.93 421.51 L363.66 422.05 L364.40 422.75 L365.13 423.01 L365.86 423.66 L366.60 424.49 L367.33 425.30 L368.06 424.58 L368.80 425.12 L369.53 425.75 L370.26 426.27 L371.00 426.87 L371.73 427.79 L372.46 428.34 L373.20 428.71 L373.93 429.22 L374.66 429.82 L375.39 430.50 L376.13 430.42 L376.86 430.96 L377.59 431.16 L378.33 431.65 L379.06 432.90 L379.79 433.05 L380.53 433.76 L381.26 434.14 L381.99 434.10 L382.73 434.70 L383.46 435.57 L384.19 435.90 L384.93 436.52 L385.66 437.27 L386.39 437.78 L387.13 438.44 L387.86 438.23 L388.59 439.52 L389.33 439.87 L390.06 440.31 L390.79 441.02 L391.53 440.76 L392.26 441.57 L392.99 442.93 L393.73 442.99 L394.46 442.85 L395.19 443.74 L395.92 443.96 L396.66 444.36 L397.39 444.81 L398.12 445.48 L398.86 445.69 L399.59 446.04 L400.32 446.72 L401.06 446.73 L401.79 447.17 L402.52 447.47 L403.26 447.70 L403.99 448.31 L404.72 448.95 L405.46 448.66 L406.19 449.11 L406.92 449.91 L407.66 450.21 L408.39 450.04 L409.12 450.25 L409.86 451.24 L410.59 451.09 L411.32 451.40 L412.06 451.51 L412.79 451.58 L413.52 451.62 L414.26 452.09 L414.99 451.98 L415.72 452.18 L416.45 452.18 L417.19 452.55 L417.92 452.65 L418.65 452.67 L419.39 452.82 L420.12 452.69 L420.85 452.84 L421.59 452.77 L422.32 452.83 L423.05 452.98 L423.79 452.79 L424.52 452.95" fill="none" stroke="#9c44b4" stroke-width="1.20" stroke-linejoin="round" stroke-linecap="butt"/>
<path d="M344.60 452.90 L344.60 429.02 L345.33 424.55 L346.07 423.79 L346.80 423.35 L347.53 422.70 L348.27 423.00 L349.00 422.50 L349.73 422.22 L350.47 421.71 L351.20 421.53 L351.93 421.24 L352.67 420.88 L353.40 420.58 L354.13 420.49 L354.86 420.64 L355.60 420.16 L356.33 420.38 L357.06 419.86 L357.80 420.21 L358.53 420.51 L359.26 420.66 L360.00 421.12 L360.73 421.01 L361.46 421.68 L362.20 421.51 L362.93 422.53 L363.66 422.72 L364.40 422.35 L365.13 422.81 L365.86 423.37 L366.60 424.84 L367.33 425.21 L368.06 425.67 L368.80 426.23 L369.53 426.11 L370.26 426.83 L371.00 427.17 L371.73 427.83 L372.46 428.45 L373.20 428.07 L373.93 429.05 L374.66 430.09 L375.39 429.92 L376.13 431.04 L376.86 431.44 L377.59 431.43 L378.33 432.65 L379.06 433.01 L379.79 433.54 L380.53 433.41 L381.26 433.84 L381.99 434.89 L382.73 434.86 L383.46 436.39 L384.19 436.51 L384.93 436.54 L385.66 437.52 L386.39 437.83 L387.13 438.36 L387.86 438.72 L388.59 439.37 L389.33 440.43 L390.06 440.59 L390.79 441.21 L391.53 441.29 L392.26 442.51 L392.99 442.70 L393.73 442.52 L394.46 443.24 L395.19 443.03 L395.92 444.25 L396.66 445.53 L397.39 444.78 L398.12 445.45 L398.86 446.02 L399.59 446.73 L400.32 446.74 L401.06 446.86 L401.79 447.31 L402.52 447.74 L403.26 447.93 L403.99 448.40 L404.72 449.11 L405.46 449.01 L406.19 449.25 L406.92 449.10 L407.66 449.99 L408.39 450.63 L409.12 450.21 L409.86 450.61 L410.59 451.28 L411.32 451.71 L412.06 451.04 L412.79 451.72 L413.52 451.89 L414.26 452.04 L414.99 452.18 L415.72 452.32 L416.45 452.44 L417.19 452.56 L417.92 452.68 L418.65 452.79 L419.39 452.87 L420.12 452.90 L420.85 452.90 L421.59 452.90 L422.32 452.90 L423.05 452.90 L423.79 452.90 L424.52 452.90" fill="none" stroke="#8a8a8a" stroke-width="1.30" stroke-linejoin="round" stroke-linecap="butt"/>
<path d="M344.60 434.51 L345.08 431.95 L345.56 430.63 L346.03 429.66 L346.51 429.05 L346.99 427.75 L347.47 427.29 L347.95 426.30 L348.43 425.85 L348.90 424.99 L349.38 424.76 L349.86 424.33 L350.34 424.22 L350.82 423.61 L351.29 423.52 L351.77 423.14 L352.25 422.90 L352.73 422.72 L353.21 422.73 L353.68 422.87 L354.16 422.56 L354.64 421.99 L355.12 421.79 L355.60 421.59 L356.08 421.84 L356.55 421.87 L357.03 421.52 L357.51 421.57 L357.99 421.79 L358.47 421.88 L358.94 422.23 L359.42 422.12 L359.90 421.93 L360.38 422.50 L360.86 422.58 L361.34 422.72 L361.81 422.98 L362.29 423.51 L362.77 423.53 L363.25 423.83" fill="none" stroke="#ff2828" stroke-width="1.50" stroke-linejoin="round" stroke-linecap="butt"/>
<rect x="328.6" y="449.9" width="9.4" height="6" fill="#fff"/>
<line x1="320.20" y1="452.90" x2="328.60" y2="452.90" stroke="#8a50a8" stroke-width="1.00" />
<line x1="337.80" y1="452.90" x2="344.00" y2="452.90" stroke="#8a50a8" stroke-width="1.00" />
<line x1="329.65" y1="458.50" x2="332.15" y2="446.90" stroke="#000" stroke-width="1.00" />
<line x1="334.65" y1="458.50" x2="337.15" y2="446.90" stroke="#000" stroke-width="1.00" />
<line x1="283.80" y1="406.70" x2="311.00" y2="423.80" stroke="#000" stroke-width="1.10" />
<line x1="291.90" y1="422.90" x2="295.20" y2="424.20" stroke="#000" stroke-width="1.10" />
<line x1="307.10" y1="435.60" x2="312.70" y2="437.10" stroke="#000" stroke-width="1.10" />
<line x1="352.50" y1="404.00" x2="351.50" y2="421.00" stroke="#000" stroke-width="1.10" />
<line x1="366.00" y1="410.50" x2="356.50" y2="423.00" stroke="#000" stroke-width="1.10" />
<line x1="360.50" y1="436.50" x2="363.50" y2="433.50" stroke="#000" stroke-width="1.10" />
<line x1="429.50" y1="377.30" x2="429.50" y2="430.00" stroke="#000" stroke-width="1.00" />
<line x1="423.30" y1="429.50" x2="497.60" y2="429.50" stroke="#000" stroke-width="1.10" />
<line x1="423.30" y1="429.50" x2="429.50" y2="429.50" stroke="#000" stroke-width="1.00" />
<line x1="423.30" y1="406.20" x2="429.50" y2="406.20" stroke="#000" stroke-width="1.00" />
<line x1="423.30" y1="382.90" x2="429.50" y2="382.90" stroke="#000" stroke-width="1.00" />
<line x1="432.50" y1="429.50" x2="432.50" y2="424.10" stroke="#000" stroke-width="1.00" />
<line x1="445.42" y1="429.50" x2="445.42" y2="424.10" stroke="#000" stroke-width="1.00" />
<line x1="458.34" y1="429.50" x2="458.34" y2="424.10" stroke="#000" stroke-width="1.00" />
<line x1="471.26" y1="429.50" x2="471.26" y2="424.10" stroke="#000" stroke-width="1.00" />
<line x1="484.18" y1="429.50" x2="484.18" y2="424.10" stroke="#000" stroke-width="1.00" />
<line x1="497.10" y1="429.50" x2="497.10" y2="424.10" stroke="#000" stroke-width="1.00" />
<line x1="432.50" y1="398.75" x2="432.50" y2="403.75" stroke="#000" stroke-width="1.00" />
<line x1="430.75" y1="398.90" x2="434.25" y2="398.90" stroke="#000" stroke-width="1.00" />
<line x1="430.75" y1="403.60" x2="434.25" y2="403.60" stroke="#000" stroke-width="1.00" />
<circle cx="432.50" cy="401.25" r="1.6" fill="#000"/>
<line x1="445.42" y1="379.35" x2="445.42" y2="384.35" stroke="#000" stroke-width="1.00" />
<line x1="443.67" y1="379.50" x2="447.17" y2="379.50" stroke="#000" stroke-width="1.00" />
<line x1="443.67" y1="384.20" x2="447.17" y2="384.20" stroke="#000" stroke-width="1.00" />
<circle cx="445.42" cy="381.85" r="1.6" fill="#000"/>
<line x1="458.34" y1="377.02" x2="458.34" y2="382.02" stroke="#000" stroke-width="1.00" />
<line x1="456.59" y1="377.17" x2="460.09" y2="377.17" stroke="#000" stroke-width="1.00" />
<line x1="456.59" y1="381.87" x2="460.09" y2="381.87" stroke="#000" stroke-width="1.00" />
<circle cx="458.34" cy="379.52" r="1.6" fill="#000"/>
<line x1="471.26" y1="375.86" x2="471.26" y2="380.86" stroke="#000" stroke-width="1.00" />
<line x1="469.51" y1="376.01" x2="473.01" y2="376.01" stroke="#000" stroke-width="1.00" />
<line x1="469.51" y1="380.71" x2="473.01" y2="380.71" stroke="#000" stroke-width="1.00" />
<circle cx="471.26" cy="378.36" r="1.6" fill="#000"/>
<line x1="484.18" y1="375.86" x2="484.18" y2="380.86" stroke="#000" stroke-width="1.00" />
<line x1="482.43" y1="376.01" x2="485.93" y2="376.01" stroke="#000" stroke-width="1.00" />
<line x1="482.43" y1="380.71" x2="485.93" y2="380.71" stroke="#000" stroke-width="1.00" />
<circle cx="484.18" cy="378.36" r="1.6" fill="#000"/>
<line x1="497.10" y1="375.86" x2="497.10" y2="380.86" stroke="#000" stroke-width="1.00" />
<line x1="495.35" y1="376.01" x2="498.85" y2="376.01" stroke="#000" stroke-width="1.00" />
<line x1="495.35" y1="380.71" x2="498.85" y2="380.71" stroke="#000" stroke-width="1.00" />
<circle cx="497.10" cy="378.36" r="1.6" fill="#000"/>
<line x1="77.10" y1="485.50" x2="110.50" y2="485.50" stroke="#000" stroke-width="1.10" />
<line x1="113.70" y1="495.80" x2="113.70" y2="595.40" stroke="#000" stroke-width="1.20" />
<line x1="113.70" y1="594.80" x2="119.70" y2="594.80" stroke="#000" stroke-width="1.10" />
<line x1="113.70" y1="571.80" x2="119.70" y2="571.80" stroke="#000" stroke-width="1.10" />
<line x1="113.70" y1="548.80" x2="119.70" y2="548.80" stroke="#000" stroke-width="1.10" />
<line x1="113.70" y1="525.80" x2="119.70" y2="525.80" stroke="#000" stroke-width="1.10" />
<line x1="113.70" y1="502.80" x2="119.70" y2="502.80" stroke="#000" stroke-width="1.10" />
<line x1="113.10" y1="594.80" x2="201.70" y2="594.80" stroke="#000" stroke-width="1.20" />
<line x1="128.85" y1="594.80" x2="128.85" y2="600.40" stroke="#000" stroke-width="1.10" />
<line x1="150.10" y1="594.80" x2="150.10" y2="600.40" stroke="#000" stroke-width="1.10" />
<line x1="171.35" y1="594.80" x2="171.35" y2="600.40" stroke="#000" stroke-width="1.10" />
<line x1="192.60" y1="594.80" x2="192.60" y2="600.40" stroke="#000" stroke-width="1.10" />
<path d="M118.22 594.80 L118.76 594.80 L119.29 594.80 L119.82 594.80 L120.35 594.80 L120.88 594.80 L121.41 594.80 L121.94 594.80 L122.47 594.80 L123.01 594.80 L123.54 594.80 L124.07 594.80 L124.60 594.80 L125.13 594.33 L125.66 593.82 L126.19 593.29 L126.72 592.73 L127.26 592.14 L127.79 591.52 L128.32 590.87 L128.85 590.18 L129.38 589.47 L129.91 588.71 L130.44 587.93 L130.97 587.11 L131.51 586.26 L132.04 585.37 L132.57 584.45 L133.10 583.49 L133.63 582.50 L134.16 581.48 L134.69 580.42 L135.22 579.34 L135.76 578.22 L136.29 577.07 L136.82 575.89 L137.35 574.69 L137.88 573.46 L138.41 572.20 L138.94 570.93 L139.47 569.63 L140.01 568.31 L140.54 566.98 L141.07 565.64 L141.60 564.29 L142.13 562.92 L142.66 561.56 L143.19 560.19 L143.72 558.82 L144.26 557.46 L144.79 556.10 L145.32 554.76 L145.85 553.43 L146.38 552.12 L146.91 550.83 L147.44 549.57 L147.97 548.33 L148.51 547.13 L149.04 545.97 L149.57 544.84 L150.10 543.76 L150.63 542.73 L151.16 541.74 L151.69 540.81 L152.22 539.93 L152.76 539.12 L153.29 538.36 L153.82 537.67 L154.35 537.04 L154.88 536.49 L155.41 536.00 L155.94 535.58 L156.47 535.24 L157.01 534.98 L157.54 534.79 L158.07 534.67 L158.60 534.63 L159.13 534.67 L159.66 534.79 L160.19 534.98 L160.72 535.24 L161.26 535.58 L161.79 536.00 L162.32 536.49 L162.85 537.04 L163.38 537.67 L163.91 538.36 L164.44 539.12 L164.97 539.93 L165.51 540.81 L166.04 541.74 L166.57 542.73 L167.10 543.76 L167.63 544.84 L168.16 545.97 L168.69 547.13 L169.22 548.33 L169.76 549.57 L170.29 550.83 L170.82 552.12 L171.35 553.43 L171.88 554.76 L172.41 556.10 L172.94 557.46 L173.47 558.82 L174.01 560.19 L174.54 561.56 L175.07 562.92 L175.60 564.29 L176.13 565.64 L176.66 566.98 L177.19 568.31 L177.72 569.63 L178.26 570.93 L178.79 572.20 L179.32 573.46 L179.85 574.69 L180.38 575.89 L180.91 577.07 L181.44 578.22 L181.97 579.34 L182.51 580.42 L183.04 581.48 L183.57 582.50 L184.10 583.49 L184.63 584.45 L185.16 585.37 L185.69 586.26 L186.22 587.11 L186.76 587.93 L187.29 588.71 L187.82 589.47 L188.35 590.18 L188.88 590.87 L189.41 591.52 L189.94 592.14 L190.47 592.73 L191.01 593.29 L191.54 593.82 L192.07 594.33 L192.60 594.80" fill="none" stroke="#000000" stroke-width="1.70" stroke-linejoin="round" stroke-linecap="butt"/>
<path d="M118.22 594.80 L118.76 594.80 L119.29 594.80 L119.82 594.80 L120.35 594.80 L120.88 594.80 L121.41 594.80 L121.94 594.80 L122.47 594.80 L123.01 594.80 L123.54 594.80 L124.07 594.80 L124.60 594.80 L125.13 594.79 L125.66 594.79 L126.19 594.79 L126.72 594.79 L127.26 594.79 L127.79 594.79 L128.32 594.78 L128.85 594.78 L129.38 594.78 L129.91 594.77 L130.44 594.77 L130.97 594.76 L131.51 594.76 L132.04 594.75 L132.57 594.74 L133.10 594.73 L133.63 594.72 L134.16 594.71 L134.69 594.69 L135.22 594.68 L135.76 594.66 L136.29 594.63 L136.82 594.61 L137.35 594.58 L137.88 594.54 L138.41 594.50 L138.94 594.46 L139.47 594.41 L140.01 594.36 L140.54 594.29 L141.07 594.22 L141.60 594.14 L142.13 594.06 L142.66 593.96 L143.19 593.85 L143.72 593.72 L144.26 593.59 L144.79 593.44 L145.32 593.27 L145.85 593.08 L146.38 592.88 L146.91 592.65 L147.44 592.40 L147.97 592.13 L148.51 591.84 L149.04 591.51 L149.57 591.16 L150.10 590.78 L150.63 590.36 L151.16 589.91 L151.69 589.43 L152.22 588.90 L152.76 588.34 L153.29 587.74 L153.82 587.09 L154.35 586.40 L154.88 585.66 L155.41 584.87 L155.94 584.04 L156.47 583.16 L157.01 582.23 L157.54 581.24 L158.07 580.21 L158.60 579.12 L159.13 577.99 L159.66 576.80 L160.19 575.56 L160.72 574.28 L161.26 572.95 L161.79 571.57 L162.32 570.15 L162.85 568.69 L163.38 567.19 L163.91 565.66 L164.44 564.09 L164.97 562.50 L165.51 560.89 L166.04 559.26 L166.57 557.62 L167.10 555.97 L167.63 554.32 L168.16 552.67 L168.69 551.04 L169.22 549.42 L169.76 547.82 L170.29 546.26 L170.82 544.73 L171.35 543.25 L171.88 541.81 L172.41 540.43 L172.94 539.12 L173.47 537.87 L174.01 536.70 L174.54 535.61 L175.07 534.60 L175.60 533.69 L176.13 532.87 L176.66 532.15 L177.19 531.54 L177.72 531.03 L178.26 530.64 L178.79 530.35 L179.32 530.18 L179.85 530.12 L180.38 530.18 L180.91 530.35 L181.44 530.64 L181.97 531.03 L182.51 531.54 L183.04 532.15 L183.57 532.87 L184.10 533.69 L184.63 534.60 L185.16 535.61 L185.69 536.70 L186.22 537.87 L186.76 539.12 L187.29 540.43 L187.82 541.81 L188.35 543.25 L188.88 544.73 L189.41 546.26 L189.94 547.82 L190.47 549.42 L191.01 551.04 L191.54 552.67 L192.07 554.32 L192.60 555.97 L192.60 594.80" fill="none" stroke="#0c960c" stroke-width="1.55" stroke-linejoin="round" stroke-linecap="butt"/>
<path d="M118.22 594.80 L118.76 594.80 L119.29 594.80 L119.82 594.80 L120.35 594.80 L120.88 594.80 L121.41 594.80 L121.94 594.80 L122.47 594.80 L123.01 594.80 L123.54 594.80 L124.07 594.80 L124.60 594.80 L125.13 594.80 L125.66 594.80 L126.19 594.80 L126.72 594.80 L127.26 594.80 L127.79 594.80 L128.32 594.79 L128.85 594.79 L129.38 594.79 L129.91 594.79 L130.44 594.79 L130.97 594.79 L131.51 594.78 L132.04 594.78 L132.57 594.77 L133.10 594.77 L133.63 594.76 L134.16 594.76 L134.69 594.75 L135.22 594.74 L135.76 594.73 L136.29 594.71 L136.82 594.70 L137.35 594.68 L137.88 594.66 L138.41 594.64 L138.94 594.61 L139.47 594.58 L140.01 594.54 L140.54 594.50 L141.07 594.46 L141.60 594.40 L142.13 594.34 L142.66 594.27 L143.19 594.19 L143.72 594.11 L144.26 594.01 L144.79 593.90 L145.32 593.77 L145.85 593.63 L146.38 593.48 L146.91 593.31 L147.44 593.12 L147.97 592.90 L148.51 592.67 L149.04 592.41 L149.57 592.13 L150.10 591.82 L150.63 591.48 L151.16 591.11 L151.69 590.70 L152.22 590.26 L152.76 589.79 L153.29 589.27 L153.82 588.72 L154.35 588.12 L154.88 587.47 L155.41 586.79 L155.94 586.05 L156.47 585.27 L157.01 584.44 L157.54 583.55 L158.07 582.62 L158.60 581.63 L159.13 580.60 L159.66 579.51 L160.19 578.37 L160.72 577.18 L161.26 575.94 L161.79 574.65 L162.32 573.32 L162.85 571.94 L163.38 570.52 L163.91 569.06 L164.44 567.56 L164.97 566.03 L165.51 564.47 L166.04 562.89 L166.57 561.29 L167.10 559.67 L167.63 558.05 L168.16 556.41 L168.69 554.78 L169.22 553.16 L169.76 551.54 L170.29 549.95 L170.82 548.38 L171.35 546.84 L171.88 545.33 L172.41 543.87 L172.94 542.45 L173.47 541.09 L174.01 539.78 L174.54 538.54 L175.07 537.37 L175.60 536.26 L176.13 535.24 L176.66 534.29 L177.19 533.43 L177.72 532.65 L178.26 531.96 L178.79 531.36 L179.32 530.85 L179.85 530.42 L180.38 530.09 L180.91 529.84 L181.44 529.68 L181.97 529.59 L182.51 529.57 L183.04 529.63 L183.57 529.77 L184.10 530.00 L184.63 530.30 L185.16 530.69 L185.69 531.15 L186.22 531.69 L186.76 532.31 L187.29 533.00 L187.82 533.76 L188.35 534.59 L188.88 535.48 L189.41 536.43 L189.94 537.44 L190.47 538.51 L191.01 539.62 L191.54 540.79 L192.07 541.99 L192.60 543.24 L192.60 594.80" fill="none" stroke="#9c44b4" stroke-width="1.40" stroke-linejoin="round" stroke-linecap="butt"/>
<path d="M118.22 594.80 L118.76 594.80 L119.29 594.80 L119.82 594.80 L120.35 594.80 L120.88 594.80 L121.41 594.80 L121.94 594.80 L122.47 594.80 L123.01 594.80 L123.54 594.80 L124.07 594.80 L124.60 594.80 L125.13 594.80 L125.66 594.80 L126.19 594.80 L126.72 594.80 L127.26 594.80 L127.79 594.80 L128.32 594.80 L128.85 594.80 L129.38 594.79 L129.91 594.79 L130.44 594.79 L130.97 594.79 L131.51 594.79 L132.04 594.78 L132.57 594.78 L133.10 594.78 L133.63 594.77 L134.16 594.77 L134.69 594.76 L135.22 594.75 L135.76 594.75 L136.29 594.74 L136.82 594.72 L137.35 594.71 L137.88 594.69 L138.41 594.67 L138.94 594.65 L139.47 594.63 L140.01 594.60 L140.54 594.56 L141.07 594.53 L141.60 594.48 L142.13 594.43 L142.66 594.37 L143.19 594.31 L143.72 594.23 L144.26 594.15 L144.79 594.06 L145.32 593.95 L145.85 593.83 L146.38 593.69 L146.91 593.55 L147.44 593.38 L147.97 593.19 L148.51 592.99 L149.04 592.76 L149.57 592.51 L150.10 592.23 L150.63 591.92 L151.16 591.59 L151.69 591.22 L152.22 590.82 L152.76 590.39 L153.29 589.92 L153.82 589.41 L154.35 588.86 L154.88 588.27 L155.41 587.63 L155.94 586.95 L156.47 586.22 L157.01 585.44 L157.54 584.61 L158.07 583.73 L158.60 582.80 L159.13 581.81 L159.66 580.78 L160.19 579.69 L160.72 578.55 L161.26 577.36 L161.79 576.12 L162.32 574.83 L162.85 573.49 L163.38 572.11 L163.91 570.69 L164.44 569.22 L164.97 567.72 L165.51 566.19 L166.04 564.63 L166.57 563.04 L167.10 561.43 L167.63 559.81 L168.16 558.18 L168.69 556.54 L169.22 554.90 L169.76 553.27 L170.29 551.65 L170.82 550.05 L171.35 548.47 L171.88 546.92 L172.41 545.41 L172.94 543.93 L173.47 542.51 L174.01 541.14 L174.54 539.82 L175.07 538.57 L175.60 537.38 L176.13 536.27 L176.66 535.23 L177.19 534.26 L177.72 533.38 L178.26 532.59 L178.79 531.88 L179.32 531.25 L179.85 530.72 L180.38 530.27 L180.91 529.90 L181.44 529.62 L181.97 529.42 L182.51 529.30 L183.04 529.25 L183.57 529.26 L184.10 529.35 L184.63 529.53 L185.16 529.78 L185.69 530.11 L186.22 530.52 L186.76 531.01 L187.29 531.57 L187.82 532.21 L188.35 532.92 L188.88 533.70 L189.41 534.54 L189.94 535.44 L190.47 536.41 L191.01 537.43 L191.54 538.50 L192.07 539.62 L192.60 540.79 L192.60 594.80" fill="none" stroke="#8a8a8a" stroke-width="1.55" stroke-linejoin="round" stroke-linecap="butt"/>
<path d="M118.22 594.80 L118.76 594.80 L119.29 594.80 L119.82 594.80 L120.35 594.80 L120.88 594.80 L121.41 594.80 L121.94 594.80 L122.47 594.80 L123.01 594.80 L123.54 594.80 L124.07 594.80 L124.60 594.80 L125.13 594.80 L125.66 594.80 L126.19 594.80 L126.72 594.80 L127.26 594.80 L127.79 594.80 L128.32 594.80 L128.85 594.80 L129.38 594.80 L129.91 594.80 L130.44 594.80 L130.97 594.80 L131.51 594.80 L132.04 594.80 L132.57 594.80 L133.10 594.80 L133.63 594.80 L134.16 594.79 L134.69 594.79 L135.22 594.79 L135.76 594.79 L136.29 594.79 L136.82 594.78 L137.35 594.78 L137.88 594.77 L138.41 594.77 L138.94 594.76 L139.47 594.75 L140.01 594.74 L140.54 594.73 L141.07 594.72 L141.60 594.70 L142.13 594.68 L142.66 594.66 L143.19 594.63 L143.72 594.60 L144.26 594.56 L144.79 594.52 L145.32 594.47 L145.85 594.41 L146.38 594.34 L146.91 594.26 L147.44 594.18 L147.97 594.08 L148.51 593.97 L149.04 593.84 L149.57 593.69 L150.10 593.53 L150.63 593.35 L151.16 593.14 L151.69 592.91 L152.22 592.66 L152.76 592.37 L153.29 592.06 L153.82 591.71 L154.35 591.33 L154.88 590.91 L155.41 590.46 L155.94 589.96 L156.47 589.41 L157.01 588.83 L157.54 588.19 L158.07 587.50 L158.60 586.77 L159.13 585.97 L159.66 585.13 L160.19 584.23 L160.72 583.27 L161.26 582.26 L161.79 581.19 L162.32 580.06 L162.85 578.88 L163.38 577.64 L163.91 576.35 L164.44 575.00 L164.97 573.61 L165.51 572.17 L166.04 570.68 L166.57 569.15 L167.10 567.58 L167.63 565.99 L168.16 564.36 L168.69 562.70 L169.22 561.03 L169.76 559.35 L170.29 557.65 L170.82 555.96 L171.35 554.27 L171.88 552.59 L172.41 550.92 L172.94 549.28 L173.47 547.67 L174.01 546.09 L174.54 544.55 L175.07 543.05 L175.60 541.61 L176.13 540.23 L176.66 538.90 L177.19 537.64 L177.72 536.45 L178.26 535.34 L178.79 534.30 L179.32 533.33 L179.85 532.45 L180.38 531.65 L180.91 530.93 L181.44 530.29 L181.97 529.74 L182.51 529.26 L183.04 528.87 L183.57 528.54 L184.10 528.30 L184.63 528.12 L185.16 528.00 L185.69 527.94 L186.22 527.92 L186.76 527.96 L187.29 528.13 L187.82 528.42 L188.35 528.83 L188.88 529.36 L189.41 530.00 L189.94 530.76 L190.47 531.63 L191.01 532.60 L191.54 533.67 L192.07 534.84 L192.60 536.09 L192.60 594.80" fill="none" stroke="#2020ff" stroke-width="1.55" stroke-linejoin="round" stroke-linecap="butt"/>
<path d="M118.22 594.80 L118.76 594.80 L119.29 594.80 L119.82 594.80 L120.35 594.80 L120.88 594.80 L121.41 594.80 L121.94 594.80 L122.47 594.80 L123.01 594.79 L123.54 594.79 L124.07 594.79 L124.60 594.79 L125.13 594.79 L125.66 594.79 L126.19 594.79 L126.72 594.79 L127.26 594.79 L127.79 594.79 L128.32 594.78 L128.85 594.78 L129.38 594.78 L129.91 594.78 L130.44 594.78 L130.97 594.77 L131.51 594.77 L132.04 594.77 L132.57 594.76 L133.10 594.76 L133.63 594.76 L134.16 594.75 L134.69 594.75 L135.22 594.74 L135.76 594.74 L136.29 594.73 L136.82 594.72 L137.35 594.71 L137.88 594.70 L138.41 594.69 L138.94 594.68 L139.47 594.67 L140.01 594.66 L140.54 594.65 L141.07 594.63 L141.60 594.61 L142.13 594.59 L142.66 594.57 L143.19 594.55 L143.72 594.53 L144.26 594.50 L144.79 594.47 L145.32 594.44 L145.85 594.41 L146.38 594.37 L146.91 594.33 L147.44 594.29 L147.97 594.24 L148.51 594.19 L149.04 594.13 L149.57 594.07 L150.10 594.00 L150.63 593.93 L151.16 593.85 L151.69 593.76 L152.22 593.67 L152.76 593.57 L153.29 593.46 L153.82 593.35 L154.35 593.22 L154.88 593.08 L155.41 592.94 L155.94 592.78 L156.47 592.61 L157.01 592.42 L157.54 592.22 L158.07 592.01 L158.60 591.78 L159.13 591.53 L159.66 591.27 L160.19 590.98 L160.72 590.68 L161.26 590.35 L161.79 590.00 L162.32 589.62 L162.85 589.22 L163.38 588.79 L163.91 588.34 L164.44 587.85 L164.97 587.33 L165.51 586.77 L166.04 586.18 L166.57 585.56 L167.10 584.89 L167.63 584.18 L168.16 583.43 L168.69 582.63 L169.22 581.79 L169.76 580.89 L170.29 579.95 L170.82 578.95 L171.35 577.90 L171.88 576.79 L172.41 575.62 L172.94 574.39 L173.47 573.10 L174.01 571.74 L174.54 570.32 L175.07 568.83 L175.60 567.27 L176.13 565.64 L176.66 563.94 L177.19 562.17 L177.72 560.33 L178.26 558.41 L178.79 556.42 L179.32 554.36 L179.85 552.23 L180.38 550.02 L180.91 547.75 L181.44 545.42 L181.97 543.02 L182.51 540.55 L183.04 538.04 L183.57 535.47 L184.10 532.86 L184.63 530.21 L185.16 527.53 L185.69 524.82 L186.22 522.11 L186.76 519.39 L187.29 516.69 L187.82 514.02 L188.35 511.38 L188.88 508.82 L189.41 506.34 L189.94 503.97 L190.47 501.76 L191.01 499.73 L191.54 497.95 L192.07 496.51 L192.60 495.67 L192.60 594.80" fill="none" stroke="#ff2828" stroke-width="1.45" stroke-linejoin="round" stroke-linecap="butt"/>
<line x1="192.50" y1="537.00" x2="192.50" y2="594.80" stroke="#a08cba" stroke-width="1.90" />
<line x1="114.50" y1="594.80" x2="140.00" y2="594.80" stroke="#8f7f9b" stroke-width="1.10" />
<line x1="179.50" y1="515.20" x2="183.50" y2="528.50" stroke="#000" stroke-width="1.10" />
<line x1="196.70" y1="524.30" x2="191.90" y2="531.20" stroke="#000" stroke-width="1.10" />
<line x1="168.50" y1="532.50" x2="172.00" y2="541.10" stroke="#000" stroke-width="1.10" />
<line x1="238.50" y1="497.00" x2="238.50" y2="597.30" stroke="#000" stroke-width="1.20" />
<line x1="238.50" y1="596.70" x2="244.50" y2="596.70" stroke="#000" stroke-width="1.10" />
<line x1="238.50" y1="574.10" x2="244.50" y2="574.10" stroke="#000" stroke-width="1.10" />
<line x1="238.50" y1="551.50" x2="244.50" y2="551.50" stroke="#000" stroke-width="1.10" />
<line x1="238.50" y1="528.90" x2="244.50" y2="528.90" stroke="#000" stroke-width="1.10" />
<line x1="238.50" y1="506.30" x2="244.50" y2="506.30" stroke="#000" stroke-width="1.10" />
<line x1="238.00" y1="596.70" x2="327.20" y2="596.70" stroke="#000" stroke-width="1.20" />
<line x1="253.45" y1="596.70" x2="253.45" y2="602.30" stroke="#000" stroke-width="1.10" />
<line x1="275.30" y1="596.70" x2="275.30" y2="602.30" stroke="#000" stroke-width="1.10" />
<line x1="297.15" y1="596.70" x2="297.15" y2="602.30" stroke="#000" stroke-width="1.10" />
<line x1="319.00" y1="596.70" x2="319.00" y2="602.30" stroke="#000" stroke-width="1.10" />
<line x1="336.00" y1="596.70" x2="422.80" y2="596.70" stroke="#000" stroke-width="1.20" />
<line x1="344.30" y1="596.70" x2="344.30" y2="602.30" stroke="#000" stroke-width="1.10" />
<line x1="366.13" y1="596.70" x2="366.13" y2="602.30" stroke="#000" stroke-width="1.10" />
<line x1="387.96" y1="596.70" x2="387.96" y2="602.30" stroke="#000" stroke-width="1.10" />
<line x1="409.79" y1="596.70" x2="409.79" y2="602.30" stroke="#000" stroke-width="1.10" />
<path d="M246.89 596.70 L247.41 596.70 L247.93 596.70 L248.44 596.70 L248.96 596.70 L249.47 596.70 L249.99 596.69 L250.50 596.69 L251.02 596.69 L251.53 596.69 L252.05 596.68 L252.56 596.68 L253.08 596.68 L253.59 596.67 L254.11 596.67 L254.62 596.66 L255.14 596.66 L255.65 596.65 L256.17 596.65 L256.68 596.64 L257.20 596.63 L257.71 596.62 L258.23 596.60 L258.74 596.59 L259.26 596.57 L259.77 596.55 L260.29 596.52 L260.80 596.50 L261.32 596.48 L261.83 596.45 L262.35 596.42 L262.86 596.38 L263.38 596.34 L263.89 596.29 L264.41 596.23 L264.92 596.16 L265.44 596.09 L265.95 596.00 L266.47 595.92 L266.98 595.82 L267.50 595.72 L268.01 595.61 L268.53 595.50 L269.04 595.38 L269.56 595.25 L270.07 595.09 L270.59 594.90 L271.10 594.70 L271.62 594.47 L272.13 594.23 L272.65 593.96 L273.16 593.68 L273.68 593.38 L274.19 593.06 L274.71 592.73 L275.22 592.38 L275.74 592.02 L276.25 591.62 L276.77 591.16 L277.28 590.66 L277.80 590.11 L278.31 589.52 L278.83 588.90 L279.34 588.25 L279.86 587.56 L280.37 586.86 L280.89 586.12 L281.40 585.29 L281.92 584.35 L282.43 583.35 L282.95 582.29 L283.46 581.22 L283.98 580.17 L284.49 579.16 L285.01 578.22 L285.52 577.30 L286.04 576.40 L286.55 575.51 L287.07 574.63 L287.58 573.77 L288.10 572.91 L288.61 572.06 L289.13 571.21 L289.64 570.38 L290.16 569.56 L290.67 568.75 L291.19 567.93 L291.70 567.13 L292.22 566.32 L292.73 565.49 L293.25 564.66 L293.76 563.81 L294.28 562.96 L294.79 562.12 L295.31 561.29 L295.82 560.49 L296.34 559.72 L296.85 558.99 L297.37 558.30 L297.88 557.65 L298.40 556.99 L298.91 556.34 L299.43 555.71 L299.94 555.12 L300.46 554.57 L300.97 554.08 L301.49 553.66 L302.00 553.33 L302.52 553.02 L303.03 552.73 L303.55 552.44 L304.06 552.17 L304.58 551.93 L305.09 551.71 L305.61 551.54 L306.12 551.40 L306.64 551.31 L307.15 551.27 L307.67 551.28 L308.18 551.31 L308.70 551.35 L309.21 551.41 L309.73 551.49 L310.24 551.58 L310.76 551.68 L311.27 551.80 L311.79 551.92 L312.30 552.05 L312.82 552.19 L313.33 552.34 L313.85 552.57 L314.36 552.86 L314.88 553.21 L315.39 553.59 L315.91 553.98 L316.42 554.39 L316.94 554.84 L317.45 555.34 L317.97 555.88 L318.48 556.45 L319.00 557.06 L319.00 596.70" fill="none" stroke="#000000" stroke-width="1.70" stroke-linejoin="round" stroke-linecap="butt"/>
<path d="M246.89 596.70 L247.41 596.69 L247.93 596.69 L248.44 596.68 L248.96 596.68 L249.47 596.67 L249.99 596.66 L250.50 596.66 L251.02 596.65 L251.53 596.64 L252.05 596.63 L252.56 596.62 L253.08 596.62 L253.59 596.61 L254.11 596.60 L254.62 596.59 L255.14 596.58 L255.65 596.57 L256.17 596.56 L256.68 596.55 L257.20 596.54 L257.71 596.53 L258.23 596.52 L258.74 596.51 L259.26 596.49 L259.77 596.48 L260.29 596.47 L260.80 596.45 L261.32 596.44 L261.83 596.42 L262.35 596.41 L262.86 596.39 L263.38 596.37 L263.89 596.36 L264.41 596.34 L264.92 596.32 L265.44 596.29 L265.95 596.27 L266.47 596.24 L266.98 596.22 L267.50 596.19 L268.01 596.16 L268.53 596.12 L269.04 596.09 L269.56 596.05 L270.07 596.01 L270.59 595.97 L271.10 595.93 L271.62 595.88 L272.13 595.84 L272.65 595.79 L273.16 595.74 L273.68 595.69 L274.19 595.64 L274.71 595.59 L275.22 595.53 L275.74 595.47 L276.25 595.41 L276.77 595.34 L277.28 595.26 L277.80 595.17 L278.31 595.08 L278.83 594.98 L279.34 594.88 L279.86 594.78 L280.37 594.68 L280.89 594.57 L281.40 594.46 L281.92 594.34 L282.43 594.23 L282.95 594.12 L283.46 594.00 L283.98 593.89 L284.49 593.78 L285.01 593.67 L285.52 593.56 L286.04 593.45 L286.55 593.34 L287.07 593.22 L287.58 593.10 L288.10 592.97 L288.61 592.83 L289.13 592.67 L289.64 592.51 L290.16 592.33 L290.67 592.14 L291.19 591.94 L291.70 591.73 L292.22 591.50 L292.73 591.25 L293.25 590.98 L293.76 590.69 L294.28 590.39 L294.79 590.06 L295.31 589.73 L295.82 589.39 L296.34 589.03 L296.85 588.67 L297.37 588.29 L297.88 587.89 L298.40 587.47 L298.91 587.04 L299.43 586.58 L299.94 586.11 L300.46 585.60 L300.97 585.07 L301.49 584.51 L302.00 583.93 L302.52 583.32 L303.03 582.69 L303.55 582.05 L304.06 581.37 L304.58 580.65 L305.09 579.91 L305.61 579.14 L306.12 578.35 L306.64 577.55 L307.15 576.73 L307.67 575.88 L308.18 575.00 L308.70 574.10 L309.21 573.18 L309.73 572.25 L310.24 571.31 L310.76 570.35 L311.27 569.37 L311.79 568.38 L312.30 567.41 L312.82 566.46 L313.33 565.56 L313.85 564.68 L314.36 563.81 L314.88 562.97 L315.39 562.16 L315.91 561.39 L316.42 560.66 L316.94 559.95 L317.45 559.27 L317.97 558.62 L318.48 558.01 L319.00 557.42 L319.00 596.70" fill="none" stroke="#0c960c" stroke-width="1.55" stroke-linejoin="round" stroke-linecap="butt"/>
<path d="M246.89 596.70 L247.41 596.70 L247.93 596.69 L248.44 596.69 L248.96 596.69 L249.47 596.69 L249.99 596.68 L250.50 596.68 L251.02 596.67 L251.53 596.67 L252.05 596.67 L252.56 596.66 L253.08 596.66 L253.59 596.65 L254.11 596.65 L254.62 596.64 L255.14 596.64 L255.65 596.64 L256.17 596.63 L256.68 596.63 L257.20 596.62 L257.71 596.62 L258.23 596.61 L258.74 596.60 L259.26 596.60 L259.77 596.59 L260.29 596.58 L260.80 596.58 L261.32 596.57 L261.83 596.56 L262.35 596.56 L262.86 596.55 L263.38 596.54 L263.89 596.53 L264.41 596.52 L264.92 596.51 L265.44 596.50 L265.95 596.48 L266.47 596.47 L266.98 596.45 L267.50 596.43 L268.01 596.41 L268.53 596.39 L269.04 596.37 L269.56 596.35 L270.07 596.32 L270.59 596.30 L271.10 596.27 L271.62 596.24 L272.13 596.21 L272.65 596.19 L273.16 596.15 L273.68 596.12 L274.19 596.09 L274.71 596.06 L275.22 596.03 L275.74 595.99 L276.25 595.95 L276.77 595.91 L277.28 595.87 L277.80 595.82 L278.31 595.77 L278.83 595.72 L279.34 595.67 L279.86 595.61 L280.37 595.55 L280.89 595.49 L281.40 595.43 L281.92 595.36 L282.43 595.30 L282.95 595.23 L283.46 595.16 L283.98 595.09 L284.49 595.02 L285.01 594.95 L285.52 594.88 L286.04 594.80 L286.55 594.71 L287.07 594.62 L287.58 594.53 L288.10 594.43 L288.61 594.33 L289.13 594.21 L289.64 594.09 L290.16 593.96 L290.67 593.82 L291.19 593.67 L291.70 593.51 L292.22 593.35 L292.73 593.18 L293.25 593.00 L293.76 592.81 L294.28 592.61 L294.79 592.39 L295.31 592.17 L295.82 591.93 L296.34 591.68 L296.85 591.42 L297.37 591.13 L297.88 590.83 L298.40 590.51 L298.91 590.18 L299.43 589.83 L299.94 589.46 L300.46 589.07 L300.97 588.65 L301.49 588.20 L302.00 587.73 L302.52 587.24 L303.03 586.73 L303.55 586.19 L304.06 585.61 L304.58 585.00 L305.09 584.35 L305.61 583.67 L306.12 582.97 L306.64 582.25 L307.15 581.52 L307.67 580.75 L308.18 579.94 L308.70 579.09 L309.21 578.23 L309.73 577.38 L310.24 576.53 L310.76 575.69 L311.27 574.84 L311.79 573.99 L312.30 573.15 L312.82 572.33 L313.33 571.52 L313.85 570.72 L314.36 569.92 L314.88 569.15 L315.39 568.40 L315.91 567.69 L316.42 567.03 L316.94 566.39 L317.45 565.78 L317.97 565.19 L318.48 564.63 L319.00 564.11 L319.00 596.70" fill="none" stroke="#2020ff" stroke-width="1.55" stroke-linejoin="round" stroke-linecap="butt"/>
<path d="M246.89 596.70 L247.41 596.70 L247.93 596.70 L248.44 596.70 L248.96 596.70 L249.47 596.70 L249.99 596.70 L250.50 596.70 L251.02 596.70 L251.53 596.70 L252.05 596.70 L252.56 596.70 L253.08 596.70 L253.59 596.70 L254.11 596.70 L254.62 596.70 L255.14 596.70 L255.65 596.70 L256.17 596.70 L256.68 596.70 L257.20 596.69 L257.71 596.69 L258.23 596.69 L258.74 596.69 L259.26 596.69 L259.77 596.69 L260.29 596.69 L260.80 596.69 L261.32 596.69 L261.83 596.69 L262.35 596.69 L262.86 596.69 L263.38 596.69 L263.89 596.68 L264.41 596.68 L264.92 596.68 L265.44 596.68 L265.95 596.68 L266.47 596.68 L266.98 596.68 L267.50 596.68 L268.01 596.68 L268.53 596.67 L269.04 596.67 L269.56 596.67 L270.07 596.67 L270.59 596.67 L271.10 596.67 L271.62 596.67 L272.13 596.66 L272.65 596.66 L273.16 596.66 L273.68 596.66 L274.19 596.66 L274.71 596.66 L275.22 596.66 L275.74 596.65 L276.25 596.65 L276.77 596.65 L277.28 596.64 L277.80 596.64 L278.31 596.63 L278.83 596.62 L279.34 596.61 L279.86 596.60 L280.37 596.59 L280.89 596.58 L281.40 596.57 L281.92 596.56 L282.43 596.55 L282.95 596.53 L283.46 596.52 L283.98 596.50 L284.49 596.49 L285.01 596.47 L285.52 596.45 L286.04 596.42 L286.55 596.38 L287.07 596.33 L287.58 596.29 L288.10 596.24 L288.61 596.19 L289.13 596.14 L289.64 596.08 L290.16 596.02 L290.67 595.96 L291.19 595.89 L291.70 595.82 L292.22 595.75 L292.73 595.67 L293.25 595.59 L293.76 595.50 L294.28 595.41 L294.79 595.31 L295.31 595.21 L295.82 595.10 L296.34 594.99 L296.85 594.88 L297.37 594.76 L297.88 594.64 L298.40 594.51 L298.91 594.36 L299.43 594.21 L299.94 594.04 L300.46 593.84 L300.97 593.63 L301.49 593.40 L302.00 593.15 L302.52 592.89 L303.03 592.61 L303.55 592.32 L304.06 592.00 L304.58 591.66 L305.09 591.30 L305.61 590.91 L306.12 590.50 L306.64 590.08 L307.15 589.65 L307.67 589.20 L308.18 588.73 L308.70 588.24 L309.21 587.71 L309.73 587.16 L310.24 586.58 L310.76 585.95 L311.27 585.28 L311.79 584.58 L312.30 583.84 L312.82 583.07 L313.33 582.28 L313.85 581.46 L314.36 580.60 L314.88 579.70 L315.39 578.77 L315.91 577.79 L316.42 576.73 L316.94 575.51 L317.45 574.31 L317.97 573.35 L318.48 572.63 L319.00 572.07 L319.00 596.70" fill="none" stroke="#ff2828" stroke-width="1.50" stroke-linejoin="round" stroke-linecap="butt"/>
<path d="M246.89 596.70 L247.41 596.70 L247.93 596.69 L248.44 596.69 L248.96 596.68 L249.47 596.68 L249.99 596.67 L250.50 596.67 L251.02 596.66 L251.53 596.66 L252.05 596.65 L252.56 596.65 L253.08 596.64 L253.59 596.64 L254.11 596.63 L254.62 596.62 L255.14 596.62 L255.65 596.61 L256.17 596.60 L256.68 596.60 L257.20 596.59 L257.71 596.58 L258.23 596.57 L258.74 596.56 L259.26 596.56 L259.77 596.55 L260.29 596.54 L260.80 596.53 L261.32 596.52 L261.83 596.51 L262.35 596.50 L262.86 596.48 L263.38 596.47 L263.89 596.46 L264.41 596.45 L264.92 596.43 L265.44 596.41 L265.95 596.40 L266.47 596.38 L266.98 596.36 L267.50 596.33 L268.01 596.31 L268.53 596.28 L269.04 596.26 L269.56 596.23 L270.07 596.20 L270.59 596.17 L271.10 596.13 L271.62 596.10 L272.13 596.06 L272.65 596.03 L273.16 595.99 L273.68 595.95 L274.19 595.91 L274.71 595.87 L275.22 595.83 L275.74 595.79 L276.25 595.74 L276.77 595.68 L277.28 595.62 L277.80 595.56 L278.31 595.50 L278.83 595.43 L279.34 595.35 L279.86 595.28 L280.37 595.20 L280.89 595.12 L281.40 595.04 L281.92 594.96 L282.43 594.87 L282.95 594.79 L283.46 594.70 L283.98 594.61 L284.49 594.53 L285.01 594.44 L285.52 594.35 L286.04 594.26 L286.55 594.16 L287.07 594.06 L287.58 593.96 L288.10 593.85 L288.61 593.73 L289.13 593.60 L289.64 593.46 L290.16 593.31 L290.67 593.15 L291.19 592.98 L291.70 592.80 L292.22 592.61 L292.73 592.41 L293.25 592.20 L293.76 591.96 L294.28 591.72 L294.79 591.46 L295.31 591.19 L295.82 590.91 L296.34 590.62 L296.85 590.32 L297.37 589.99 L297.88 589.65 L298.40 589.30 L298.91 588.92 L299.43 588.53 L299.94 588.12 L300.46 587.68 L300.97 587.22 L301.49 586.73 L302.00 586.21 L302.52 585.67 L303.03 585.11 L303.55 584.53 L304.06 583.91 L304.58 583.26 L305.09 582.58 L305.61 581.86 L306.12 581.12 L306.64 580.37 L307.15 579.60 L307.67 578.80 L308.18 577.96 L308.70 577.10 L309.21 576.21 L309.73 575.32 L310.24 574.45 L310.76 573.56 L311.27 572.65 L311.79 571.75 L312.30 570.85 L312.82 569.98 L313.33 569.14 L313.85 568.30 L314.36 567.48 L314.88 566.68 L315.39 565.90 L315.91 565.17 L316.42 564.48 L316.94 563.81 L317.45 563.17 L317.97 562.56 L318.48 561.98 L319.00 561.43 L319.00 596.70" fill="none" stroke="#9c44b4" stroke-width="1.40" stroke-linejoin="round" stroke-linecap="butt"/>
<path d="M246.89 596.70 L247.41 596.70 L247.93 596.69 L248.44 596.69 L248.96 596.68 L249.47 596.68 L249.99 596.67 L250.50 596.66 L251.02 596.66 L251.53 596.65 L252.05 596.64 L252.56 596.64 L253.08 596.63 L253.59 596.62 L254.11 596.62 L254.62 596.61 L255.14 596.60 L255.65 596.59 L256.17 596.58 L256.68 596.58 L257.20 596.57 L257.71 596.56 L258.23 596.55 L258.74 596.54 L259.26 596.53 L259.77 596.52 L260.29 596.51 L260.80 596.50 L261.32 596.48 L261.83 596.47 L262.35 596.46 L262.86 596.45 L263.38 596.43 L263.89 596.42 L264.41 596.40 L264.92 596.38 L265.44 596.36 L265.95 596.34 L266.47 596.32 L266.98 596.30 L267.50 596.27 L268.01 596.24 L268.53 596.22 L269.04 596.19 L269.56 596.15 L270.07 596.12 L270.59 596.08 L271.10 596.05 L271.62 596.01 L272.13 595.97 L272.65 595.93 L273.16 595.89 L273.68 595.84 L274.19 595.80 L274.71 595.75 L275.22 595.71 L275.74 595.66 L276.25 595.60 L276.77 595.54 L277.28 595.47 L277.80 595.40 L278.31 595.32 L278.83 595.24 L279.34 595.16 L279.86 595.07 L280.37 594.98 L280.89 594.89 L281.40 594.80 L281.92 594.70 L282.43 594.60 L282.95 594.51 L283.46 594.41 L283.98 594.31 L284.49 594.21 L285.01 594.12 L285.52 594.02 L286.04 593.92 L286.55 593.82 L287.07 593.71 L287.58 593.60 L288.10 593.48 L288.61 593.35 L289.13 593.21 L289.64 593.06 L290.16 592.90 L290.67 592.73 L291.19 592.54 L291.70 592.35 L292.22 592.15 L292.73 591.93 L293.25 591.69 L293.76 591.44 L294.28 591.16 L294.79 590.88 L295.31 590.58 L295.82 590.28 L296.34 589.96 L296.85 589.63 L297.37 589.28 L297.88 588.92 L298.40 588.54 L298.91 588.14 L299.43 587.72 L299.94 587.28 L300.46 586.81 L300.97 586.32 L301.49 585.80 L302.00 585.26 L302.52 584.69 L303.03 584.10 L303.55 583.50 L304.06 582.85 L304.58 582.17 L305.09 581.46 L305.61 580.73 L306.12 579.97 L306.64 579.19 L307.15 578.40 L307.67 577.59 L308.18 576.73 L308.70 575.85 L309.21 574.95 L309.73 574.04 L310.24 573.14 L310.76 572.22 L311.27 571.28 L311.79 570.34 L312.30 569.42 L312.82 568.51 L313.33 567.65 L313.85 566.79 L314.36 565.95 L314.88 565.13 L315.39 564.34 L315.91 563.59 L316.42 562.89 L316.94 562.20 L317.45 561.55 L317.97 560.92 L318.48 560.33 L319.00 559.76 L319.00 596.70" fill="none" stroke="#8a8a8a" stroke-width="1.55" stroke-linejoin="round" stroke-linecap="butt"/>
<line x1="319.00" y1="558.50" x2="319.00" y2="596.70" stroke="#9a30a8" stroke-width="2.00" />
<path d="M344.30 596.70 L344.30 561.72 L344.85 562.48 L345.39 563.25 L345.94 564.02 L346.48 564.79 L347.03 565.58 L347.57 566.36 L348.12 567.15 L348.67 567.94 L349.21 568.74 L349.76 569.55 L350.30 570.37 L350.85 571.21 L351.39 572.05 L351.94 572.89 L352.49 573.74 L353.03 574.57 L353.58 575.40 L354.12 576.20 L354.67 576.99 L355.22 577.75 L355.76 578.52 L356.31 579.28 L356.85 580.04 L357.40 580.79 L357.94 581.52 L358.49 582.23 L359.04 582.91 L359.58 583.57 L360.13 584.19 L360.67 584.77 L361.22 585.34 L361.76 585.89 L362.31 586.43 L362.86 586.95 L363.40 587.44 L363.95 587.92 L364.49 588.38 L365.04 588.81 L365.58 589.21 L366.13 589.59 L366.68 589.94 L367.22 590.29 L367.77 590.61 L368.31 590.93 L368.86 591.23 L369.40 591.51 L369.95 591.79 L370.50 592.05 L371.04 592.30 L371.59 592.53 L372.13 592.76 L372.68 592.98 L373.22 593.20 L373.77 593.40 L374.32 593.60 L374.86 593.79 L375.41 593.97 L375.95 594.14 L376.50 594.29 L377.05 594.44 L377.59 594.58 L378.14 594.71 L378.68 594.83 L379.23 594.95 L379.77 595.06 L380.32 595.17 L380.87 595.27 L381.41 595.37 L381.96 595.46 L382.50 595.55 L383.05 595.63 L383.59 595.71 L384.14 595.79 L384.69 595.87 L385.23 595.94 L385.78 596.01 L386.32 596.07 L386.87 596.13 L387.41 596.18 L387.96 596.23 L388.51 596.27 L389.05 596.32 L389.60 596.36 L390.14 596.39 L390.69 596.43 L391.23 596.47 L391.78 596.50 L392.33 596.53 L392.87 596.55 L393.42 596.58 L393.96 596.60 L394.51 596.61 L395.05 596.62 L395.60 596.63 L396.15 596.64 L396.69 596.65 L397.24 596.66 L397.78 596.67 L398.33 596.68 L398.88 596.69 L399.42 596.69 L399.97 596.70 L400.51 596.70 L401.06 596.70 L401.60 596.70 L402.15 596.70 L402.70 596.70 L403.24 596.70 L403.79 596.70 L404.33 596.70 L404.88 596.70 L405.42 596.70 L405.97 596.70 L406.52 596.70 L407.06 596.70 L407.61 596.70 L408.15 596.70 L408.70 596.70 L409.24 596.70 L409.79 596.70 L410.34 596.70 L410.88 596.70 L411.43 596.70 L411.97 596.70 L412.52 596.70 L413.06 596.70 L413.61 596.70 L414.16 596.70 L414.70 596.70 L415.25 596.70 L415.79 596.70 L416.34 596.70 L416.88 596.70 L417.43 596.70 L417.98 596.70 L418.52 596.70 L419.07 596.70 L419.61 596.70 L420.16 596.70 L420.71 596.70 L421.25 596.70 L421.80 596.70 L422.34 596.70 L422.89 596.70" fill="none" stroke="#000000" stroke-width="1.70" stroke-linejoin="round" stroke-linecap="butt"/>
<path d="M344.30 571.70 L344.85 570.82 L345.39 569.95 L345.94 569.09 L346.48 568.23 L347.03 567.38 L347.57 566.52 L348.12 565.64 L348.67 564.76 L349.21 563.91 L349.76 563.12 L350.30 562.39 L350.85 561.74 L351.39 561.12 L351.94 560.54 L352.49 559.99 L353.03 559.49 L353.58 559.03 L354.12 558.62 L354.67 558.23 L355.22 557.87 L355.76 557.55 L356.31 557.26 L356.85 556.98 L357.40 556.73 L357.94 556.66 L358.49 556.81 L359.04 557.12 L359.58 557.54 L360.13 558.02 L360.67 558.53 L361.22 559.01 L361.76 559.51 L362.31 560.08 L362.86 560.69 L363.40 561.33 L363.95 562.01 L364.49 562.72 L365.04 563.43 L365.58 564.16 L366.13 564.88 L366.68 565.59 L367.22 566.30 L367.77 567.03 L368.31 567.78 L368.86 568.54 L369.40 569.31 L369.95 570.08 L370.50 570.86 L371.04 571.64 L371.59 572.41 L372.13 573.18 L372.68 573.95 L373.22 574.72 L373.77 575.50 L374.32 576.29 L374.86 577.07 L375.41 577.85 L375.95 578.62 L376.50 579.38 L377.05 580.12 L377.59 580.85 L378.14 581.56 L378.68 582.27 L379.23 582.98 L379.77 583.69 L380.32 584.38 L380.87 585.06 L381.41 585.72 L381.96 586.35 L382.50 586.95 L383.05 587.52 L383.59 588.05 L384.14 588.56 L384.69 589.06 L385.23 589.55 L385.78 590.01 L386.32 590.46 L386.87 590.89 L387.41 591.29 L387.96 591.66 L388.51 592.01 L389.05 592.32 L389.60 592.62 L390.14 592.91 L390.69 593.18 L391.23 593.44 L391.78 593.68 L392.33 593.91 L392.87 594.13 L393.42 594.33 L393.96 594.51 L394.51 594.68 L395.05 594.83 L395.60 594.98 L396.15 595.13 L396.69 595.26 L397.24 595.39 L397.78 595.50 L398.33 595.61 L398.88 595.71 L399.42 595.80 L399.97 595.88 L400.51 595.95 L401.06 596.02 L401.60 596.09 L402.15 596.15 L402.70 596.21 L403.24 596.26 L403.79 596.31 L404.33 596.35 L404.88 596.39 L405.42 596.42 L405.97 596.45 L406.52 596.48 L407.06 596.50 L407.61 596.53 L408.15 596.55 L408.70 596.57 L409.24 596.59 L409.79 596.61 L410.34 596.62 L410.88 596.64 L411.43 596.65 L411.97 596.65 L412.52 596.66 L413.06 596.67 L413.61 596.67 L414.16 596.68 L414.70 596.68 L415.25 596.69 L415.79 596.69 L416.34 596.69 L416.88 596.70 L417.43 596.70 L417.98 596.70 L418.52 596.70 L419.07 596.70 L419.61 596.70 L420.16 596.70 L420.71 596.70 L421.25 596.70 L421.80 596.70 L422.34 596.70 L422.89 596.70" fill="none" stroke="#ff2828" stroke-width="1.55" stroke-linejoin="round" stroke-linecap="butt"/>
<path d="M344.30 558.37 L344.85 557.73 L345.39 557.12 L345.94 556.56 L346.48 556.06 L347.03 555.62 L347.57 555.22 L348.12 554.84 L348.67 554.48 L349.21 554.16 L349.76 553.91 L350.30 553.74 L350.85 553.63 L351.39 553.53 L351.94 553.45 L352.49 553.39 L353.03 553.36 L353.58 553.37 L354.12 553.48 L354.67 553.70 L355.22 554.00 L355.76 554.37 L356.31 554.80 L356.85 555.27 L357.40 555.76 L357.94 556.26 L358.49 556.88 L359.04 557.66 L359.58 558.53 L360.13 559.46 L360.67 560.40 L361.22 561.31 L361.76 562.22 L362.31 563.17 L362.86 564.14 L363.40 565.13 L363.95 566.13 L364.49 567.14 L365.04 568.16 L365.58 569.17 L366.13 570.17 L366.68 571.16 L367.22 572.15 L367.77 573.15 L368.31 574.16 L368.86 575.18 L369.40 576.19 L369.95 577.19 L370.50 578.17 L371.04 579.12 L371.59 580.05 L372.13 580.93 L372.68 581.79 L373.22 582.65 L373.77 583.50 L374.32 584.33 L374.86 585.15 L375.41 585.94 L375.95 586.69 L376.50 587.40 L377.05 588.06 L377.59 588.68 L378.14 589.24 L378.68 589.78 L379.23 590.30 L379.77 590.80 L380.32 591.28 L380.87 591.73 L381.41 592.15 L381.96 592.54 L382.50 592.89 L383.05 593.21 L383.59 593.48 L384.14 593.74 L384.69 593.98 L385.23 594.21 L385.78 594.42 L386.32 594.62 L386.87 594.80 L387.41 594.97 L387.96 595.12 L388.51 595.26 L389.05 595.38 L389.60 595.50 L390.14 595.61 L390.69 595.72 L391.23 595.82 L391.78 595.91 L392.33 596.00 L392.87 596.07 L393.42 596.14 L393.96 596.20 L394.51 596.25 L395.05 596.30 L395.60 596.34 L396.15 596.38 L396.69 596.41 L397.24 596.45 L397.78 596.48 L398.33 596.50 L398.88 596.53 L399.42 596.55 L399.97 596.56 L400.51 596.58 L401.06 596.59 L401.60 596.60 L402.15 596.61 L402.70 596.62 L403.24 596.63 L403.79 596.64 L404.33 596.64 L404.88 596.65 L405.42 596.65 L405.97 596.66 L406.52 596.67 L407.06 596.67 L407.61 596.68 L408.15 596.68 L408.70 596.69 L409.24 596.69 L409.79 596.69 L410.34 596.70 L410.88 596.70 L411.43 596.70 L411.97 596.70 L412.52 596.70 L413.06 596.70 L413.61 596.70 L414.16 596.70 L414.70 596.70 L415.25 596.70 L415.79 596.70 L416.34 596.70 L416.88 596.70 L417.43 596.70 L417.98 596.70 L418.52 596.70 L419.07 596.70 L419.61 596.70 L420.16 596.70 L420.71 596.70 L421.25 596.70 L421.80 596.70 L422.34 596.70 L422.89 596.70" fill="none" stroke="#0c960c" stroke-width="1.55" stroke-linejoin="round" stroke-linecap="butt"/>
<path d="M344.30 562.57 L344.85 561.63 L345.39 560.74 L345.94 559.90 L346.48 559.14 L347.03 558.45 L347.57 557.82 L348.12 557.21 L348.67 556.64 L349.21 556.13 L349.76 555.68 L350.30 555.32 L350.85 555.01 L351.39 554.70 L351.94 554.43 L352.49 554.19 L353.03 554.03 L353.58 553.95 L354.12 553.95 L354.67 554.02 L355.22 554.13 L355.76 554.26 L356.31 554.41 L356.85 554.72 L357.40 555.23 L357.94 555.81 L358.49 556.42 L359.04 557.02 L359.58 557.60 L360.13 558.15 L360.67 558.71 L361.22 559.35 L361.76 560.12 L362.31 561.06 L362.86 562.01 L363.40 562.78 L363.95 563.58 L364.49 564.40 L365.04 565.23 L365.58 566.06 L366.13 566.89 L366.68 567.70 L367.22 568.52 L367.77 569.36 L368.31 570.20 L368.86 571.06 L369.40 571.92 L369.95 572.78 L370.50 573.64 L371.04 574.48 L371.59 575.31 L372.13 576.13 L372.68 576.93 L373.22 577.73 L373.77 578.54 L374.32 579.34 L374.86 580.14 L375.41 580.92 L375.95 581.69 L376.50 582.43 L377.05 583.14 L377.59 583.82 L378.14 584.48 L378.68 585.12 L379.23 585.76 L379.77 586.39 L380.32 587.00 L380.87 587.60 L381.41 588.16 L381.96 588.70 L382.50 589.21 L383.05 589.68 L383.59 590.11 L384.14 590.53 L384.69 590.93 L385.23 591.32 L385.78 591.69 L386.32 592.04 L386.87 592.37 L387.41 592.69 L387.96 592.98 L388.51 593.24 L389.05 593.49 L389.60 593.72 L390.14 593.94 L390.69 594.14 L391.23 594.34 L391.78 594.53 L392.33 594.71 L392.87 594.87 L393.42 595.02 L393.96 595.15 L394.51 595.28 L395.05 595.39 L395.60 595.50 L396.15 595.60 L396.69 595.70 L397.24 595.79 L397.78 595.87 L398.33 595.95 L398.88 596.02 L399.42 596.08 L399.97 596.14 L400.51 596.19 L401.06 596.24 L401.60 596.28 L402.15 596.32 L402.70 596.36 L403.24 596.40 L403.79 596.43 L404.33 596.46 L404.88 596.49 L405.42 596.51 L405.97 596.53 L406.52 596.55 L407.06 596.57 L407.61 596.58 L408.15 596.60 L408.70 596.62 L409.24 596.63 L409.79 596.64 L410.34 596.65 L410.88 596.66 L411.43 596.67 L411.97 596.67 L412.52 596.68 L413.06 596.68 L413.61 596.68 L414.16 596.69 L414.70 596.69 L415.25 596.69 L415.79 596.69 L416.34 596.70 L416.88 596.70 L417.43 596.70 L417.98 596.70 L418.52 596.70 L419.07 596.70 L419.61 596.70 L420.16 596.70 L420.71 596.70 L421.25 596.70 L421.80 596.70 L422.34 596.70 L422.89 596.70" fill="none" stroke="#2020ff" stroke-width="1.55" stroke-linejoin="round" stroke-linecap="butt"/>
<path d="M344.30 561.31 L344.85 560.46 L345.39 559.65 L345.94 558.90 L346.48 558.21 L347.03 557.60 L347.57 557.04 L348.12 556.50 L348.67 555.99 L349.21 555.54 L349.76 555.15 L350.30 554.84 L350.85 554.59 L351.39 554.35 L351.94 554.13 L352.49 553.95 L353.03 553.83 L353.58 553.78 L354.12 553.81 L354.67 553.92 L355.22 554.09 L355.76 554.30 L356.31 554.53 L356.85 554.88 L357.40 555.51 L357.94 556.06 L358.49 556.65 L359.04 557.28 L359.58 557.96 L360.13 558.66 L360.67 559.38 L361.22 560.11 L361.76 560.85 L362.31 561.62 L362.86 562.41 L363.40 563.23 L363.95 564.07 L364.49 564.93 L365.04 565.79 L365.58 566.66 L366.13 567.52 L366.68 568.37 L367.22 569.22 L367.77 570.09 L368.31 570.97 L368.86 571.86 L369.40 572.75 L369.95 573.63 L370.50 574.51 L371.04 575.38 L371.59 576.23 L372.13 577.06 L372.68 577.87 L373.22 578.69 L373.77 579.50 L374.32 580.31 L374.86 581.11 L375.41 581.89 L375.95 582.65 L376.50 583.39 L377.05 584.09 L377.59 584.76 L378.14 585.40 L378.68 586.02 L379.23 586.64 L379.77 587.25 L380.32 587.83 L380.87 588.40 L381.41 588.94 L381.96 589.45 L382.50 589.92 L383.05 590.36 L383.59 590.76 L384.14 591.15 L384.69 591.52 L385.23 591.88 L385.78 592.22 L386.32 592.54 L386.87 592.84 L387.41 593.13 L387.96 593.39 L388.51 593.63 L389.05 593.85 L389.60 594.06 L390.14 594.26 L390.69 594.45 L391.23 594.63 L391.78 594.80 L392.33 594.95 L392.87 595.10 L393.42 595.24 L393.96 595.36 L394.51 595.47 L395.05 595.57 L395.60 595.66 L396.15 595.75 L396.69 595.84 L397.24 595.92 L397.78 595.99 L398.33 596.06 L398.88 596.12 L399.42 596.17 L399.97 596.22 L400.51 596.26 L401.06 596.31 L401.60 596.34 L402.15 596.38 L402.70 596.41 L403.24 596.44 L403.79 596.47 L404.33 596.50 L404.88 596.52 L405.42 596.54 L405.97 596.56 L406.52 596.57 L407.06 596.59 L407.61 596.60 L408.15 596.62 L408.70 596.63 L409.24 596.64 L409.79 596.65 L410.34 596.66 L410.88 596.67 L411.43 596.67 L411.97 596.68 L412.52 596.68 L413.06 596.68 L413.61 596.69 L414.16 596.69 L414.70 596.69 L415.25 596.69 L415.79 596.70 L416.34 596.70 L416.88 596.70 L417.43 596.70 L417.98 596.70 L418.52 596.70 L419.07 596.70 L419.61 596.70 L420.16 596.70 L420.71 596.70 L421.25 596.70 L421.80 596.70 L422.34 596.70 L422.89 596.70" fill="none" stroke="#9c44b4" stroke-width="1.40" stroke-linejoin="round" stroke-linecap="butt"/>
<path d="M344.30 560.47 L344.85 559.68 L345.39 558.93 L345.94 558.23 L346.48 557.60 L347.03 557.03 L347.57 556.52 L348.12 556.02 L348.67 555.56 L349.21 555.15 L349.76 554.80 L350.30 554.53 L350.85 554.32 L351.39 554.12 L351.94 553.94 L352.49 553.79 L353.03 553.69 L353.58 553.66 L354.12 553.72 L354.67 553.86 L355.22 554.06 L355.76 554.32 L356.31 554.61 L356.85 554.99 L357.40 555.58 L357.94 556.12 L358.49 556.72 L359.04 557.39 L359.58 558.11 L360.13 558.87 L360.67 559.64 L361.22 560.41 L361.76 561.19 L362.31 562.00 L362.86 562.83 L363.40 563.69 L363.95 564.57 L364.49 565.46 L365.04 566.36 L365.58 567.26 L366.13 568.16 L366.68 569.04 L367.22 569.92 L367.77 570.82 L368.31 571.74 L368.86 572.65 L369.40 573.57 L369.95 574.49 L370.50 575.39 L371.04 576.28 L371.59 577.14 L372.13 577.99 L372.68 578.81 L373.22 579.64 L373.77 580.46 L374.32 581.28 L374.86 582.08 L375.41 582.86 L375.95 583.62 L376.50 584.35 L377.05 585.05 L377.59 585.70 L378.14 586.32 L378.68 586.93 L379.23 587.52 L379.77 588.10 L380.32 588.66 L380.87 589.20 L381.41 589.71 L381.96 590.19 L382.50 590.64 L383.05 591.05 L383.59 591.42 L384.14 591.77 L384.69 592.11 L385.23 592.44 L385.78 592.75 L386.32 593.04 L386.87 593.31 L387.41 593.57 L387.96 593.81 L388.51 594.02 L389.05 594.22 L389.60 594.41 L390.14 594.58 L390.69 594.75 L391.23 594.91 L391.78 595.06 L392.33 595.20 L392.87 595.33 L393.42 595.45 L393.96 595.56 L394.51 595.65 L395.05 595.74 L395.60 595.82 L396.15 595.90 L396.69 595.97 L397.24 596.04 L397.78 596.11 L398.33 596.16 L398.88 596.22 L399.42 596.26 L399.97 596.30 L400.51 596.34 L401.06 596.37 L401.60 596.41 L402.15 596.44 L402.70 596.46 L403.24 596.49 L403.79 596.51 L404.33 596.53 L404.88 596.55 L405.42 596.57 L405.97 596.58 L406.52 596.59 L407.06 596.61 L407.61 596.62 L408.15 596.63 L408.70 596.64 L409.24 596.65 L409.79 596.66 L410.34 596.67 L410.88 596.67 L411.43 596.68 L411.97 596.68 L412.52 596.69 L413.06 596.69 L413.61 596.69 L414.16 596.69 L414.70 596.69 L415.25 596.70 L415.79 596.70 L416.34 596.70 L416.88 596.70 L417.43 596.70 L417.98 596.70 L418.52 596.70 L419.07 596.70 L419.61 596.70 L420.16 596.70 L420.71 596.70 L421.25 596.70 L421.80 596.70 L422.34 596.70 L422.89 596.70" fill="none" stroke="#8a8a8a" stroke-width="1.55" stroke-linejoin="round" stroke-linecap="butt"/>
<line x1="344.10" y1="558.50" x2="344.10" y2="596.70" stroke="#b4a6c4" stroke-width="1.40" />
<rect x="326.8" y="593.7" width="9.4" height="6" fill="#fff"/>
<line x1="247.20" y1="596.70" x2="266.00" y2="596.70" stroke="#8f7f9b" stroke-width="1.10" />
<line x1="319.50" y1="596.70" x2="326.80" y2="596.70" stroke="#2a1a30" stroke-width="1.20" />
<line x1="336.20" y1="596.70" x2="344.00" y2="596.70" stroke="#2a1a30" stroke-width="1.20" />
<line x1="395.00" y1="596.70" x2="422.80" y2="596.70" stroke="#9a86a4" stroke-width="1.20" />
<line x1="328.25" y1="602.10" x2="330.75" y2="590.50" stroke="#000" stroke-width="1.00" />
<line x1="332.95" y1="602.10" x2="335.45" y2="590.50" stroke="#000" stroke-width="1.00" />
<line x1="286.80" y1="546.90" x2="317.20" y2="559.00" stroke="#000" stroke-width="1.10" />
<line x1="277.70" y1="560.90" x2="311.40" y2="573.50" stroke="#000" stroke-width="1.10" />
<line x1="271.60" y1="584.00" x2="276.80" y2="586.60" stroke="#000" stroke-width="1.10" />
<line x1="307.90" y1="586.20" x2="312.70" y2="588.20" stroke="#000" stroke-width="1.10" />
<line x1="361.80" y1="533.80" x2="345.20" y2="555.80" stroke="#000" stroke-width="1.10" />
<line x1="363.20" y1="547.60" x2="351.30" y2="559.40" stroke="#000" stroke-width="1.10" />
<line x1="356.30" y1="585.20" x2="360.80" y2="582.80" stroke="#000" stroke-width="1.10" />
<circle cx="377.6" cy="537.9" r="0.5" fill="#333"/>
<line x1="431.30" y1="520.40" x2="431.30" y2="573.00" stroke="#000" stroke-width="1.00" />
<line x1="425.10" y1="572.50" x2="498.50" y2="572.50" stroke="#000" stroke-width="1.10" />
<line x1="425.10" y1="572.50" x2="431.30" y2="572.50" stroke="#000" stroke-width="1.00" />
<line x1="425.10" y1="549.20" x2="431.30" y2="549.20" stroke="#000" stroke-width="1.00" />
<line x1="425.10" y1="525.90" x2="431.30" y2="525.90" stroke="#000" stroke-width="1.00" />
<line x1="434.20" y1="572.50" x2="434.20" y2="567.10" stroke="#000" stroke-width="1.00" />
<line x1="446.96" y1="572.50" x2="446.96" y2="567.10" stroke="#000" stroke-width="1.00" />
<line x1="459.72" y1="572.50" x2="459.72" y2="567.10" stroke="#000" stroke-width="1.00" />
<line x1="472.48" y1="572.50" x2="472.48" y2="567.10" stroke="#000" stroke-width="1.00" />
<line x1="485.24" y1="572.50" x2="485.24" y2="567.10" stroke="#000" stroke-width="1.00" />
<line x1="498.00" y1="572.50" x2="498.00" y2="567.10" stroke="#000" stroke-width="1.00" />
<circle cx="434.20" cy="558.29" r="1.65" fill="#000"/>
<circle cx="446.96" cy="529.98" r="1.65" fill="#000"/>
<circle cx="459.72" cy="524.74" r="1.65" fill="#000"/>
<circle cx="472.48" cy="524.04" r="1.65" fill="#000"/>
<circle cx="485.24" cy="524.04" r="1.65" fill="#000"/>
<circle cx="498.00" cy="524.04" r="1.65" fill="#000"/>
<path d="M319.2 336.0 V597" fill="none" stroke="#111" stroke-width="1.2" stroke-dasharray="3.5 3.5"/>
<path d="M344.2 335.5 V597" fill="none" stroke="#111" stroke-width="1.1" stroke-dasharray="3.5 3.5"/>
<g style="filter:grayscale(1)">
<text x="76.6" y="333.2" font-size="10.6" stroke="#000" stroke-width="0.42">Experiment</text>
<text x="279.70" y="332.20" font-size="10.40" text-anchor="middle" font-weight="normal" font-style="normal" fill="#000" stroke="#000" stroke-width="0.26" >Control field</text>
<text transform="translate(110.70 454.50) scale(0.860 1)" font-size="9.40" text-anchor="end" stroke="#000" stroke-width="0.22">0.00</text>
<text transform="translate(110.70 431.40) scale(0.860 1)" font-size="9.40" text-anchor="end" stroke="#000" stroke-width="0.22">0.05</text>
<text transform="translate(110.70 408.30) scale(0.860 1)" font-size="9.40" text-anchor="end" stroke="#000" stroke-width="0.22">0.10</text>
<text transform="translate(110.70 385.20) scale(0.860 1)" font-size="9.40" text-anchor="end" stroke="#000" stroke-width="0.22">0.15</text>
<text transform="translate(110.70 362.10) scale(0.860 1)" font-size="9.40" text-anchor="end" stroke="#000" stroke-width="0.22">0.20</text>
<text transform="translate(129.40 469.00) scale(0.840 1)" font-size="9.40" text-anchor="middle" stroke="#000" stroke-width="0.22">-150</text>
<text transform="translate(150.70 469.00) scale(0.840 1)" font-size="9.40" text-anchor="middle" stroke="#000" stroke-width="0.22">-100</text>
<text transform="translate(172.00 469.00) scale(0.840 1)" font-size="9.40" text-anchor="middle" stroke="#000" stroke-width="0.22">-50</text>
<text transform="translate(193.30 469.00) scale(0.840 1)" font-size="9.40" text-anchor="middle" stroke="#000" stroke-width="0.22">0</text>
<text transform="translate(87.30 402.00) rotate(-90)" font-size="10.60" text-anchor="middle" stroke="#000" stroke-width="0.25">Signal field amplitude</text>
<text x="160.00" y="479.20" font-size="10.60" text-anchor="middle" font-weight="normal" font-style="normal" fill="#000" stroke="#000" stroke-width="0.26" >Time (µs)</text>
<text x="125.30" y="359.50" font-size="10.40" font-style="italic" stroke="#000" stroke-width="0.22">input pulse</text>
<text transform="translate(179.30 360.20) scale(1.12 1)" font-size="13" font-style="italic" font-weight="bold" font-family='"Liberation Serif", serif'>&#x190;</text>
<text x="185.20" y="364.90" font-size="8.5" font-style="italic" stroke="#000" stroke-width="0.1">in</text>
<text x="192.20" y="359.30" font-size="8.5" font-style="italic">(t)</text>
<text x="146.00" y="393.50" font-size="10.50" text-anchor="start" font-weight="normal" font-style="normal" fill="#000" stroke="#000" stroke-width="0.26" >0</text>
<text x="153.50" y="404.00" font-size="10.50" text-anchor="start" font-weight="normal" font-style="normal" fill="#000" stroke="#000" stroke-width="0.26" >2</text>
<text x="172.00" y="378.60" font-size="10.50" text-anchor="start" font-weight="normal" font-style="normal" fill="#000" stroke="#000" stroke-width="0.26" >3,4,5</text>
<text x="190.50" y="392.00" font-size="10.50" text-anchor="start" font-weight="normal" font-style="normal" fill="#000" stroke="#000" stroke-width="0.26" >1</text>
<text transform="translate(236.60 455.50) scale(0.860 1)" font-size="9.40" text-anchor="end" stroke="#000" stroke-width="0.22">0.00</text>
<text transform="translate(236.60 432.88) scale(0.860 1)" font-size="9.40" text-anchor="end" stroke="#000" stroke-width="0.22">0.05</text>
<text transform="translate(236.60 410.26) scale(0.860 1)" font-size="9.40" text-anchor="end" stroke="#000" stroke-width="0.22">0.10</text>
<text transform="translate(236.60 387.64) scale(0.860 1)" font-size="9.40" text-anchor="end" stroke="#000" stroke-width="0.22">0.15</text>
<text transform="translate(236.60 365.02) scale(0.860 1)" font-size="9.40" text-anchor="end" stroke="#000" stroke-width="0.22">0.20</text>
<text transform="translate(255.70 470.30) scale(0.840 1)" font-size="9.40" text-anchor="middle" stroke="#000" stroke-width="0.22">-150</text>
<text transform="translate(277.30 470.30) scale(0.840 1)" font-size="9.40" text-anchor="middle" stroke="#000" stroke-width="0.22">-100</text>
<text transform="translate(298.90 470.30) scale(0.840 1)" font-size="9.40" text-anchor="middle" stroke="#000" stroke-width="0.22">-50</text>
<text transform="translate(320.50 470.30) scale(0.840 1)" font-size="9.40" text-anchor="middle" stroke="#000" stroke-width="0.22">0</text>
<text transform="translate(345.00 470.30) scale(0.840 1)" font-size="9.40" text-anchor="middle" stroke="#000" stroke-width="0.22">400</text>
<text transform="translate(367.20 470.30) scale(0.840 1)" font-size="9.40" text-anchor="middle" stroke="#000" stroke-width="0.22">450</text>
<text transform="translate(389.40 470.30) scale(0.840 1)" font-size="9.40" text-anchor="middle" stroke="#000" stroke-width="0.22">500</text>
<text transform="translate(411.60 470.30) scale(0.840 1)" font-size="9.40" text-anchor="middle" stroke="#000" stroke-width="0.22">550</text>
<text transform="translate(218.50 403.00) rotate(-90)" font-size="10.60" text-anchor="middle" stroke="#000" stroke-width="0.25">Signal field amplitude</text>
<text x="344.40" y="481.50" font-size="10.60" text-anchor="middle" font-weight="normal" font-style="normal" fill="#000" stroke="#000" stroke-width="0.26" >Time (µs)</text>
<text x="273.70" y="358.50" font-size="10.45" text-anchor="start" font-weight="normal" font-style="italic" fill="#000" stroke="#000" stroke-width="0.26" >leakage</text>
<text x="348.00" y="359.80" font-size="10.40" font-style="italic" stroke="#000" stroke-width="0.22">retrieved pulse</text>
<text transform="translate(420.30 360.50) scale(1.12 1)" font-size="13" font-style="italic" font-weight="bold" font-family='"Liberation Serif", serif'>&#x190;</text>
<text x="428.00" y="365.20" font-size="8.5" font-style="italic" stroke="#000" stroke-width="0.1">out</text>
<text x="440.30" y="359.60" font-size="8.5" font-style="italic">(t)</text>
<text x="268.40" y="405.20" font-size="10.50" text-anchor="start" font-weight="normal" font-style="normal" fill="#000" stroke="#000" stroke-width="0.26" >2,3,4,5</text>
<text x="284.80" y="424.10" font-size="10.50" text-anchor="start" font-weight="normal" font-style="normal" fill="#000" stroke="#000" stroke-width="0.26" >0</text>
<text x="313.20" y="441.60" font-size="10.50" text-anchor="start" font-weight="normal" font-style="normal" fill="#000" stroke="#000" stroke-width="0.26" >1</text>
<text x="346.50" y="401.50" font-size="10.50" text-anchor="start" font-weight="normal" font-style="normal" fill="#000" stroke="#000" stroke-width="0.26" >2,3,4,5</text>
<text x="365.80" y="415.80" font-size="10.50" text-anchor="start" font-weight="normal" font-style="normal" fill="#000" stroke="#000" stroke-width="0.26" >1</text>
<text x="354.50" y="444.50" font-size="10.50" text-anchor="start" font-weight="normal" font-style="normal" fill="#000" stroke="#000" stroke-width="0.26" >0</text>
<text transform="translate(420.50 432.90) scale(0.860 1)" font-size="9.60" text-anchor="end" stroke="#000" stroke-width="0.10">0.0</text>
<text transform="translate(420.50 409.60) scale(0.860 1)" font-size="9.60" text-anchor="end" stroke="#000" stroke-width="0.10">0.2</text>
<text transform="translate(420.50 386.30) scale(0.860 1)" font-size="9.60" text-anchor="end" stroke="#000" stroke-width="0.10">0.4</text>
<text transform="translate(432.50 440.80) scale(0.860 1)" font-size="9.60" text-anchor="middle" stroke="#000" stroke-width="0.10">0</text>
<text transform="translate(445.42 440.80) scale(0.860 1)" font-size="9.60" text-anchor="middle" stroke="#000" stroke-width="0.10">1</text>
<text transform="translate(458.34 440.80) scale(0.860 1)" font-size="9.60" text-anchor="middle" stroke="#000" stroke-width="0.10">2</text>
<text transform="translate(471.26 440.80) scale(0.860 1)" font-size="9.60" text-anchor="middle" stroke="#000" stroke-width="0.10">3</text>
<text transform="translate(484.18 440.80) scale(0.860 1)" font-size="9.60" text-anchor="middle" stroke="#000" stroke-width="0.10">4</text>
<text transform="translate(497.10 440.80) scale(0.860 1)" font-size="9.60" text-anchor="middle" stroke="#000" stroke-width="0.10">5</text>
<text transform="translate(465.10 450.20) scale(0.895 1)" font-size="9.00" text-anchor="middle" stroke="#000" stroke-width="0.10">Iteration #</text>
<text transform="translate(405.90 403.80) rotate(-90) scale(0.88 1)" font-size="8.6" text-anchor="middle" stroke="#000" stroke-width="0.2">Efficiency</text>
<text x="77.4" y="484.8" font-size="10.6" stroke="#000" stroke-width="0.42">Theory</text>
<text transform="translate(110.00 597.40) scale(0.860 1)" font-size="9.40" text-anchor="end" stroke="#000" stroke-width="0.22">0.00</text>
<text transform="translate(110.00 574.40) scale(0.860 1)" font-size="9.40" text-anchor="end" stroke="#000" stroke-width="0.22">0.05</text>
<text transform="translate(110.00 551.40) scale(0.860 1)" font-size="9.40" text-anchor="end" stroke="#000" stroke-width="0.22">0.10</text>
<text transform="translate(110.00 528.40) scale(0.860 1)" font-size="9.40" text-anchor="end" stroke="#000" stroke-width="0.22">0.15</text>
<text transform="translate(110.00 505.40) scale(0.860 1)" font-size="9.40" text-anchor="end" stroke="#000" stroke-width="0.22">0.20</text>
<text transform="translate(128.85 612.00) scale(0.840 1)" font-size="9.40" text-anchor="middle" stroke="#000" stroke-width="0.22">-150</text>
<text transform="translate(150.10 612.00) scale(0.840 1)" font-size="9.40" text-anchor="middle" stroke="#000" stroke-width="0.22">-100</text>
<text transform="translate(171.35 612.00) scale(0.840 1)" font-size="9.40" text-anchor="middle" stroke="#000" stroke-width="0.22">-50</text>
<text transform="translate(192.60 612.00) scale(0.840 1)" font-size="9.40" text-anchor="middle" stroke="#000" stroke-width="0.22">0</text>
<text transform="translate(89.80 545.00) rotate(-90)" font-size="10.60" text-anchor="middle" stroke="#000" stroke-width="0.25">Signal field amplitude</text>
<text x="156.30" y="623.80" font-size="10.60" text-anchor="middle" font-weight="normal" font-style="normal" fill="#000" stroke="#000" stroke-width="0.26" >Time (µs)</text>
<text x="185.20" y="500.00" font-size="10.50" text-anchor="start" font-weight="normal" font-style="normal" fill="#000" stroke="#000" stroke-width="0.26" >1</text>
<text x="172.10" y="515.00" font-size="10.50" text-anchor="start" font-weight="normal" font-style="normal" fill="#000" stroke="#000" stroke-width="0.26" >4,5</text>
<text x="196.90" y="525.30" font-size="10.50" text-anchor="start" font-weight="normal" font-style="normal" fill="#000" stroke="#000" stroke-width="0.26" >3</text>
<text x="167.00" y="532.00" font-size="10.50" text-anchor="start" font-weight="normal" font-style="normal" fill="#000" stroke="#000" stroke-width="0.26" >2</text>
<text x="141.70" y="548.10" font-size="10.50" text-anchor="start" font-weight="normal" font-style="normal" fill="#000" stroke="#000" stroke-width="0.26" >0</text>
<text transform="translate(235.50 599.30) scale(0.860 1)" font-size="9.40" text-anchor="end" stroke="#000" stroke-width="0.22">0.00</text>
<text transform="translate(235.50 576.70) scale(0.860 1)" font-size="9.40" text-anchor="end" stroke="#000" stroke-width="0.22">0.05</text>
<text transform="translate(235.50 554.10) scale(0.860 1)" font-size="9.40" text-anchor="end" stroke="#000" stroke-width="0.22">0.10</text>
<text transform="translate(235.50 531.50) scale(0.860 1)" font-size="9.40" text-anchor="end" stroke="#000" stroke-width="0.22">0.15</text>
<text transform="translate(235.50 508.90) scale(0.860 1)" font-size="9.40" text-anchor="end" stroke="#000" stroke-width="0.22">0.20</text>
<text transform="translate(253.45 613.80) scale(0.840 1)" font-size="9.40" text-anchor="middle" stroke="#000" stroke-width="0.22">-150</text>
<text transform="translate(275.30 613.80) scale(0.840 1)" font-size="9.40" text-anchor="middle" stroke="#000" stroke-width="0.22">-100</text>
<text transform="translate(297.15 613.80) scale(0.840 1)" font-size="9.40" text-anchor="middle" stroke="#000" stroke-width="0.22">-50</text>
<text transform="translate(319.00 613.80) scale(0.840 1)" font-size="9.40" text-anchor="middle" stroke="#000" stroke-width="0.22">0</text>
<text transform="translate(344.30 613.80) scale(0.840 1)" font-size="9.40" text-anchor="middle" stroke="#000" stroke-width="0.22">400</text>
<text transform="translate(366.13 613.80) scale(0.840 1)" font-size="9.40" text-anchor="middle" stroke="#000" stroke-width="0.22">450</text>
<text transform="translate(387.96 613.80) scale(0.840 1)" font-size="9.40" text-anchor="middle" stroke="#000" stroke-width="0.22">500</text>
<text transform="translate(409.79 613.80) scale(0.840 1)" font-size="9.40" text-anchor="middle" stroke="#000" stroke-width="0.22">550</text>
<text transform="translate(216.30 547.00) rotate(-90)" font-size="10.60" text-anchor="middle" stroke="#000" stroke-width="0.25">Signal field amplitude</text>
<text x="342.40" y="625.70" font-size="10.60" text-anchor="middle" font-weight="normal" font-style="normal" fill="#000" stroke="#000" stroke-width="0.26" >Time (µs)</text>
<text x="283.60" y="547.90" font-size="10.50" text-anchor="start" font-weight="normal" font-style="normal" fill="#000" stroke="#000" stroke-width="0.26" >2</text>
<text x="254.30" y="562.80" font-size="10.50" text-anchor="start" font-weight="normal" font-style="normal" fill="#000" stroke="#000" stroke-width="0.26" >3,4,5</text>
<text x="266.10" y="584.80" font-size="10.50" text-anchor="start" font-weight="normal" font-style="normal" fill="#000" stroke="#000" stroke-width="0.26" >0</text>
<text x="313.20" y="591.40" font-size="10.50" text-anchor="start" font-weight="normal" font-style="normal" fill="#000" stroke="#000" stroke-width="0.26" >1</text>
<text x="353.50" y="530.70" font-size="10.50" text-anchor="start" font-weight="normal" font-style="normal" fill="#000" stroke="#000" stroke-width="0.26" >2,3,4,5</text>
<text x="363.50" y="550.30" font-size="10.50" text-anchor="start" font-weight="normal" font-style="normal" fill="#000" stroke="#000" stroke-width="0.26" >1</text>
<text x="350.50" y="591.60" font-size="10.50" text-anchor="start" font-weight="normal" font-style="normal" fill="#000" stroke="#000" stroke-width="0.26" >0</text>
<text transform="translate(422.80 575.90) scale(0.860 1)" font-size="9.60" text-anchor="end" stroke="#000" stroke-width="0.10">0.0</text>
<text transform="translate(422.80 552.60) scale(0.860 1)" font-size="9.60" text-anchor="end" stroke="#000" stroke-width="0.10">0.2</text>
<text transform="translate(422.80 529.30) scale(0.860 1)" font-size="9.60" text-anchor="end" stroke="#000" stroke-width="0.10">0.4</text>
<text transform="translate(434.20 584.00) scale(0.860 1)" font-size="9.60" text-anchor="middle" stroke="#000" stroke-width="0.10">0</text>
<text transform="translate(446.96 584.00) scale(0.860 1)" font-size="9.60" text-anchor="middle" stroke="#000" stroke-width="0.10">1</text>
<text transform="translate(459.72 584.00) scale(0.860 1)" font-size="9.60" text-anchor="middle" stroke="#000" stroke-width="0.10">2</text>
<text transform="translate(472.48 584.00) scale(0.860 1)" font-size="9.60" text-anchor="middle" stroke="#000" stroke-width="0.10">3</text>
<text transform="translate(485.24 584.00) scale(0.860 1)" font-size="9.60" text-anchor="middle" stroke="#000" stroke-width="0.10">4</text>
<text transform="translate(498.00 584.00) scale(0.860 1)" font-size="9.60" text-anchor="middle" stroke="#000" stroke-width="0.10">5</text>
<text transform="translate(466.40 593.50) scale(0.895 1)" font-size="9.00" text-anchor="middle" stroke="#000" stroke-width="0.10">Iteration #</text>
<text transform="translate(405.90 545.80) rotate(-90) scale(0.88 1)" font-size="8.6" text-anchor="middle" stroke="#000" stroke-width="0.2">Efficiency</text>
</g>
</svg>
</body></html>
